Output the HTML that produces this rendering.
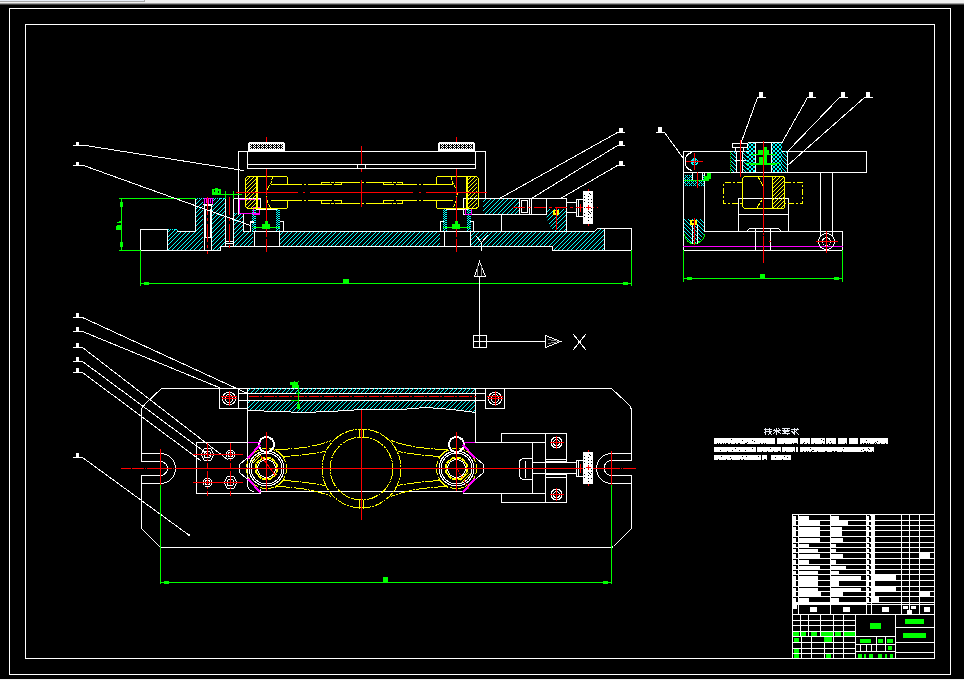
<!DOCTYPE html>
<html><head><meta charset="utf-8"><title>CAD drawing</title>
<style>html,body{margin:0;padding:0;background:#000;width:964px;height:680px;overflow:hidden;font-family:"Liberation Sans",sans-serif}
svg{display:block}</style></head><body>
<svg width="964" height="680" viewBox="0 0 964 680" shape-rendering="crispEdges" stroke-linecap="square"><defs><clipPath id="c1"><polygon points="167,229 176,229 177,231 195,231 195,198 203,198 203,250 167,250"/></clipPath><clipPath id="c2"><polygon points="212,198 225,198 225,246 220,246 220,250 212,250"/></clipPath><clipPath id="c3"><polygon points="233,213 243,213 243,231 253,231 253,246 233,246"/></clipPath><clipPath id="c4"><polygon points="280,231 440,231 440,246 280,246"/></clipPath><clipPath id="c5"><polygon points="470,231 594,231 597,228 604,228 604,250 552,250 552,246 470,246"/></clipPath><clipPath id="c6"><polygon points="483,198 519,198 519,214 483,214"/></clipPath><clipPath id="c7"><polygon points="546,209 566,209 566,231 554,231 550,226 547,219 546,214"/></clipPath><clipPath id="c8"><polygon points="252,209 255,209 255,230 252,230"/></clipPath><clipPath id="c9"><polygon points="276,209 279,209 279,230 276,230"/></clipPath><clipPath id="c10"><polygon points="443,209 446,209 446,230 443,230"/></clipPath><clipPath id="c11"><polygon points="467,209 470,209 470,230 467,230"/></clipPath><clipPath id="c12"><polygon points="246,177 256,177 256,208 246,208"/></clipPath><clipPath id="c13"><polygon points="467,177 477,177 477,208 467,208"/></clipPath><clipPath id="c14"><polygon points="730,151 736,151 736,172 730,172"/></clipPath><clipPath id="c15"><polygon points="742,151 747,151 747,172 742,172"/></clipPath><clipPath id="c16"><polygon points="747,142 755,142 755,172 747,172"/></clipPath><clipPath id="c17"><polygon points="747,142 755,142 755,172 747,172"/></clipPath><clipPath id="c18"><polygon points="771,142 782,142 782,172 771,172"/></clipPath><clipPath id="c19"><polygon points="771,142 782,142 782,172 771,172"/></clipPath><clipPath id="c20"><polygon points="782,151 787,151 787,172 782,172"/></clipPath><clipPath id="c21"><polygon points="684,175 704,175 704,186 684,186"/></clipPath><clipPath id="c22"><polygon points="684,175 704,175 704,186 684,186"/></clipPath><clipPath id="c23"><polygon points="684,219 704,219 704,234 699,243 689,243 684,236"/></clipPath><clipPath id="c24"><polygon points="772,177 784,177 784,208 772,208"/></clipPath><clipPath id="c25"><polygon points="247,388 475,388 475,393 247,393"/></clipPath><clipPath id="c26"><polygon points="247,400 475,400 475,412 460,410 440,408 425,407 400,409 362,409 330,411 301,412 280,411 247,410"/></clipPath><clipPath id="c27"><polygon points="255.19,464.07 256.04,462.25 257.19,460.61 258.61,459.19 260.25,458.04 262.07,457.19 260.53,452.96 258,454.14 255.72,455.74 253.74,457.72 252.14,460 250.96,462.53"/></clipPath><clipPath id="c28"><polygon points="466.81,471.93 465.96,473.75 464.81,475.39 463.39,476.81 461.75,477.96 459.93,478.81 461.47,483.04 464,481.86 466.28,480.26 468.26,478.28 469.86,476 471.04,473.47"/></clipPath></defs><rect x="0" y="0" width="964" height="680" fill="#000000"/>
<rect x="0" y="0" width="964" height="3" fill="#f0f0f0"/>
<rect x="0" y="0" width="145" height="1" fill="#e8eef8"/>
<rect x="0" y="1" width="145" height="1" fill="#a8a8a8"/>
<rect x="144" y="0" width="1" height="2" fill="#a8a8a8"/>
<rect x="0" y="3" width="964" height="1" fill="#a0a0a0"/>
<rect x="0" y="4" width="964" height="1" fill="#404040"/>
<rect x="0" y="679" width="964" height="1" fill="#f0f0f0"/>
<polygon points="9.5,8.5 950.5,8.5 950.5,674.5 9.5,674.5" fill="none" stroke="#ffffff" stroke-width="1"/>
<polygon points="25.5,24.5 934.5,24.5 934.5,658.5 25.5,658.5" fill="none" stroke="#ffffff" stroke-width="1"/>
<path clip-path="url(#c1)" d="M114 251L168 197M118 251L172 197M123 251L177 197M127 251L181 197M132 251L186 197M136 251L190 197M140 251L194 197M145 251L199 197M149 251L203 197M154 251L208 197M158 251L212 197M162 251L216 197M167 251L221 197M171 251L225 197M176 251L230 197M180 251L234 197M184 251L238 197M189 251L243 197M193 251L247 197M198 251L252 197M202 251L256 197" stroke="#00ffff" stroke-width="1" fill="none"/>
<path clip-path="url(#c2)" d="M159 251L213 197M163 251L217 197M168 251L222 197M172 251L226 197M177 251L231 197M181 251L235 197M185 251L239 197M190 251L244 197M194 251L248 197M199 251L253 197M203 251L257 197M207 251L261 197M212 251L266 197M216 251L270 197M221 251L275 197" stroke="#00ffff" stroke-width="1" fill="none"/>
<path clip-path="url(#c3)" d="M199 247L234 212M203 247L238 212M208 247L243 212M212 247L247 212M217 247L252 212M221 247L256 212M225 247L260 212M230 247L265 212M234 247L269 212M239 247L274 212M243 247L278 212M247 247L282 212M252 247L287 212" stroke="#00ffff" stroke-width="1" fill="none"/>
<path clip-path="url(#c4)" d="M264 247L281 230M268 247L285 230M273 247L290 230M277 247L294 230M282 247L299 230M286 247L303 230M290 247L307 230M295 247L312 230M299 247L316 230M304 247L321 230M308 247L325 230M312 247L329 230M317 247L334 230M321 247L338 230M326 247L343 230M330 247L347 230M334 247L351 230M339 247L356 230M343 247L360 230M348 247L365 230M352 247L369 230M356 247L373 230M361 247L378 230M365 247L382 230M370 247L387 230M374 247L391 230M378 247L395 230M383 247L400 230M387 247L404 230M392 247L409 230M396 247L413 230M400 247L417 230M405 247L422 230M409 247L426 230M414 247L431 230M418 247L435 230M422 247L439 230M427 247L444 230M431 247L448 230M436 247L453 230" stroke="#00ffff" stroke-width="1" fill="none"/>
<path clip-path="url(#c5)" d="M447 251L471 227M451 251L475 227M456 251L480 227M460 251L484 227M465 251L489 227M469 251L493 227M473 251L497 227M478 251L502 227M482 251L506 227M487 251L511 227M491 251L515 227M495 251L519 227M500 251L524 227M504 251L528 227M509 251L533 227M513 251L537 227M517 251L541 227M522 251L546 227M526 251L550 227M531 251L555 227M535 251L559 227M539 251L563 227M544 251L568 227M548 251L572 227M553 251L577 227M557 251L581 227M561 251L585 227M566 251L590 227M570 251L594 227M575 251L599 227M579 251L603 227M583 251L607 227M588 251L612 227M592 251L616 227M597 251L621 227M601 251L625 227" stroke="#00ffff" stroke-width="1" fill="none"/>
<path clip-path="url(#c6)" d="M466 215L484 197M470 215L488 197M475 215L493 197M479 215L497 197M484 215L502 197M488 215L506 197M492 215L510 197M497 215L515 197M501 215L519 197M506 215L524 197M510 215L528 197M514 215L532 197" stroke="#00ffff" stroke-width="1" fill="none"/>
<path clip-path="url(#c7)" d="M523 232L547 208M527 232L551 208M532 232L556 208M536 232L560 208M541 232L565 208M545 232L569 208M549 232L573 208M554 232L578 208M558 232L582 208M563 232L587 208" stroke="#00ffff" stroke-width="1" fill="none"/>
<polyline points="167.5,229.5 176.5,229.5 177.5,231.5 195.5,231.5 195.5,198.5 203.5,198.5" fill="none" stroke="#00ffff" stroke-width="1" stroke-dasharray="1 1" stroke-linecap="butt"/>
<polyline points="212.5,198.5 225.5,198.5" fill="none" stroke="#00ffff" stroke-width="1" stroke-dasharray="1 1" stroke-linecap="butt"/>
<polyline points="233.5,213.5 243.5,213.5 243.5,231.5 253.5,231.5" fill="none" stroke="#00ffff" stroke-width="1" stroke-dasharray="1 1" stroke-linecap="butt"/>
<path clip-path="url(#c8)" d="M230 231L253 208M232 231L255 208M234 231L257 208M236 231L259 208M238 231L261 208M240 231L263 208M242 231L265 208M244 231L267 208M246 231L269 208M248 231L271 208M250 231L273 208M252 231L275 208M254 231L277 208" stroke="#00ffff" stroke-width="1" fill="none"/>
<line x1="252.5" y1="209.5" x2="252.5" y2="230.5" stroke="#00ffff" stroke-width="1" stroke-dasharray="1 1" stroke-linecap="butt"/>
<line x1="255.5" y1="209.5" x2="255.5" y2="230.5" stroke="#00ffff" stroke-width="1" stroke-dasharray="1 1" stroke-linecap="butt"/>
<path clip-path="url(#c9)" d="M254 231L277 208M256 231L279 208M258 231L281 208M260 231L283 208M262 231L285 208M264 231L287 208M266 231L289 208M268 231L291 208M270 231L293 208M272 231L295 208M274 231L297 208M276 231L299 208M278 231L301 208" stroke="#00ffff" stroke-width="1" fill="none"/>
<line x1="276.5" y1="209.5" x2="276.5" y2="230.5" stroke="#00ffff" stroke-width="1" stroke-dasharray="1 1" stroke-linecap="butt"/>
<line x1="279.5" y1="209.5" x2="279.5" y2="230.5" stroke="#00ffff" stroke-width="1" stroke-dasharray="1 1" stroke-linecap="butt"/>
<path clip-path="url(#c10)" d="M421 231L444 208M423 231L446 208M425 231L448 208M427 231L450 208M429 231L452 208M431 231L454 208M433 231L456 208M435 231L458 208M437 231L460 208M439 231L462 208M441 231L464 208M443 231L466 208M445 231L468 208" stroke="#00ffff" stroke-width="1" fill="none"/>
<line x1="443.5" y1="209.5" x2="443.5" y2="230.5" stroke="#00ffff" stroke-width="1" stroke-dasharray="1 1" stroke-linecap="butt"/>
<line x1="446.5" y1="209.5" x2="446.5" y2="230.5" stroke="#00ffff" stroke-width="1" stroke-dasharray="1 1" stroke-linecap="butt"/>
<path clip-path="url(#c11)" d="M445 231L468 208M447 231L470 208M449 231L472 208M451 231L474 208M453 231L476 208M455 231L478 208M457 231L480 208M459 231L482 208M461 231L484 208M463 231L486 208M465 231L488 208M467 231L490 208M469 231L492 208" stroke="#00ffff" stroke-width="1" fill="none"/>
<line x1="467.5" y1="209.5" x2="467.5" y2="230.5" stroke="#00ffff" stroke-width="1" stroke-dasharray="1 1" stroke-linecap="butt"/>
<line x1="470.5" y1="209.5" x2="470.5" y2="230.5" stroke="#00ffff" stroke-width="1" stroke-dasharray="1 1" stroke-linecap="butt"/>
<polygon points="140.5,229.5 167.5,229.5 167.5,250.5 140.5,250.5" fill="none" stroke="#ffffff" stroke-width="1"/>
<line x1="167.5" y1="250.5" x2="220.5" y2="250.5" stroke="#ffffff" stroke-width="1"/>
<line x1="220.5" y1="246.5" x2="220.5" y2="250.5" stroke="#ffffff" stroke-width="1"/>
<line x1="220.5" y1="246.5" x2="552.5" y2="246.5" stroke="#ffffff" stroke-width="1"/>
<line x1="552.5" y1="246.5" x2="552.5" y2="250.5" stroke="#ffffff" stroke-width="1"/>
<line x1="552.5" y1="250.5" x2="631.5" y2="250.5" stroke="#ffffff" stroke-width="1"/>
<polygon points="604.5,228.5 631.5,228.5 631.5,250.5 604.5,250.5" fill="none" stroke="#ffffff" stroke-width="1"/>
<line x1="177.5" y1="231.5" x2="195.5" y2="231.5" stroke="#ffffff" stroke-width="1"/>
<line x1="253.5" y1="231.5" x2="594.5" y2="231.5" stroke="#ffffff" stroke-width="1"/>
<line x1="594.5" y1="231.5" x2="597.5" y2="228.5" stroke="#ffffff" stroke-width="1"/>
<line x1="597.5" y1="228.5" x2="604.5" y2="228.5" stroke="#ffffff" stroke-width="1"/>
<line x1="195.5" y1="198.5" x2="195.5" y2="231.5" stroke="#ffffff" stroke-width="1"/>
<polygon points="204.5,205.5 211.5,205.5 211.5,250.5 204.5,250.5" fill="none" stroke="#ffffff" stroke-width="1"/>
<line x1="205.5" y1="209.5" x2="205.5" y2="236.5" stroke="#ffffff" stroke-width="1"/>
<line x1="210.5" y1="209.5" x2="210.5" y2="236.5" stroke="#ffffff" stroke-width="1"/>
<line x1="204.5" y1="237.5" x2="211.5" y2="237.5" stroke="#ffffff" stroke-width="1"/>
<polygon points="204.5,198.5 212.5,198.5 212.5,204.5 204.5,204.5" fill="none" stroke="#ff00ff" stroke-width="1"/>
<line x1="208.5" y1="199.5" x2="208.5" y2="203.5" stroke="#ff00ff" stroke-width="1"/>
<line x1="206.5" y1="199.5" x2="206.5" y2="202.5" stroke="#ff00ff" stroke-width="1"/>
<line x1="210.5" y1="199.5" x2="210.5" y2="202.5" stroke="#ff00ff" stroke-width="1"/>
<line x1="203.5" y1="204.5" x2="212.5" y2="204.5" stroke="#ffffff" stroke-width="1"/>
<line x1="225.5" y1="198.5" x2="225.5" y2="246.5" stroke="#ffffff" stroke-width="1"/>
<line x1="233.5" y1="198.5" x2="233.5" y2="246.5" stroke="#ffffff" stroke-width="1"/>
<line x1="226.5" y1="241.5" x2="232.5" y2="241.5" stroke="#ffffff" stroke-width="1"/>
<line x1="226.5" y1="243.5" x2="232.5" y2="243.5" stroke="#ffffff" stroke-width="1"/>
<line x1="233.5" y1="198.5" x2="260.5" y2="198.5" stroke="#ffffff" stroke-width="1"/>
<line x1="260.5" y1="198.5" x2="260.5" y2="208.5" stroke="#ffffff" stroke-width="1"/>
<polyline points="239.5,199.5 239.5,213.5 259.5,213.5" fill="none" stroke="#ff00ff" stroke-width="1"/>
<line x1="239.5" y1="199.5" x2="259.5" y2="199.5" stroke="#ff00ff" stroke-width="1"/>
<polygon points="253.5,207.5 259.5,207.5 259.5,214.5 253.5,214.5" fill="none" stroke="#ff00ff" stroke-width="1"/>
<polyline points="243.5,214.5 243.5,231.5 250.5,231.5 250.5,222.5 253.5,222.5" fill="none" stroke="#ffffff" stroke-width="1"/>
<polyline points="250.5,231.5 250.5,221.5 253.5,221.5" fill="none" stroke="#ffffff" stroke-width="1"/>
<polyline points="280.5,221.5 283.5,221.5 283.5,231.5" fill="none" stroke="#ffffff" stroke-width="1"/>
<line x1="254.5" y1="231.5" x2="254.5" y2="246.5" stroke="#ffffff" stroke-width="1"/>
<line x1="279.5" y1="231.5" x2="279.5" y2="246.5" stroke="#ffffff" stroke-width="1"/>
<line x1="256.5" y1="209.5" x2="276.5" y2="209.5" stroke="#ffffff" stroke-width="1"/>
<polyline points="440.5,231.5 440.5,221.5 443.5,221.5" fill="none" stroke="#ffffff" stroke-width="1"/>
<polyline points="470.5,221.5 473.5,221.5 473.5,231.5" fill="none" stroke="#ffffff" stroke-width="1"/>
<line x1="444.5" y1="231.5" x2="444.5" y2="246.5" stroke="#ffffff" stroke-width="1"/>
<line x1="470.5" y1="231.5" x2="470.5" y2="246.5" stroke="#ffffff" stroke-width="1"/>
<line x1="446.5" y1="209.5" x2="467.5" y2="209.5" stroke="#ffffff" stroke-width="1"/>
<polygon points="463.5,198.5 519.5,198.5 519.5,214.5 463.5,214.5" fill="none" stroke="#ffffff" stroke-width="1"/>
<polygon points="465.5,208.5 471.5,208.5 471.5,214.5 465.5,214.5" fill="none" stroke="#ff00ff" stroke-width="1"/>
<line x1="501.5" y1="214.5" x2="501.5" y2="231.5" stroke="#ffffff" stroke-width="1"/>
<line x1="476.5" y1="236.5" x2="481.5" y2="242.5" stroke="#ffffff" stroke-width="1"/>
<line x1="487.5" y1="235.5" x2="481.5" y2="242.5" stroke="#ffffff" stroke-width="1"/>
<line x1="481.5" y1="242.5" x2="481.5" y2="250.5" stroke="#ffffff" stroke-width="1"/>
<line x1="238.5" y1="151.5" x2="485.5" y2="151.5" stroke="#ffffff" stroke-width="1"/>
<line x1="238.5" y1="151.5" x2="238.5" y2="214.5" stroke="#ffffff" stroke-width="1"/>
<line x1="485.5" y1="151.5" x2="485.5" y2="198.5" stroke="#ffffff" stroke-width="1"/>
<line x1="247.5" y1="151.5" x2="247.5" y2="168.5" stroke="#ffffff" stroke-width="1"/>
<line x1="475.5" y1="151.5" x2="475.5" y2="168.5" stroke="#ffffff" stroke-width="1"/>
<line x1="247.5" y1="164.5" x2="475.5" y2="164.5" stroke="#ffffff" stroke-width="1"/>
<line x1="247.5" y1="168.5" x2="475.5" y2="168.5" stroke="#ffffff" stroke-width="1"/>
<line x1="357.5" y1="164.5" x2="357.5" y2="168.5" stroke="#ffffff" stroke-width="1"/>
<line x1="365.5" y1="164.5" x2="365.5" y2="168.5" stroke="#ffffff" stroke-width="1"/>
<path clip-path="url(#c12)" d="M214 209L247 176M218 209L251 176M222 209L255 176M226 209L259 176M230 209L263 176M234 209L267 176M238 209L271 176M242 209L275 176M246 209L279 176M250 209L283 176M254 209L287 176" stroke="#ffff00" stroke-width="1" fill="none"/>
<line x1="256.5" y1="177.5" x2="256.5" y2="208.5" stroke="#ffff00" stroke-width="1"/>
<line x1="257.5" y1="177.5" x2="257.5" y2="208.5" stroke="#ffff00" stroke-width="1"/>
<polyline points="247.5,176.5 286.5,176.5 287.5,177.5 287.5,184.5" fill="none" stroke="#ffff00" stroke-width="1"/>
<polyline points="287.5,200.5 287.5,207.5 286.5,208.5 247.5,208.5 245.5,206.5 245.5,178.5 247.5,176.5" fill="none" stroke="#ffff00" stroke-width="1"/>
<line x1="271.5" y1="184.5" x2="287.5" y2="184.5" stroke="#ffff00" stroke-width="1"/>
<line x1="271.5" y1="200.5" x2="287.5" y2="200.5" stroke="#ffff00" stroke-width="1"/>
<path d="M 272.5 177.5 L 271 183 Q 265.5 190 266.5 196 Q 267 202 270.5 208" fill="none" stroke="#ffff00" stroke-width="1" stroke-dasharray="3 1" stroke-linecap="butt"/>
<path clip-path="url(#c13)" d="M435 209L468 176M439 209L472 176M443 209L476 176M447 209L480 176M451 209L484 176M455 209L488 176M459 209L492 176M463 209L496 176M467 209L500 176M471 209L504 176M475 209L508 176" stroke="#ffff00" stroke-width="1" fill="none"/>
<line x1="466.5" y1="177.5" x2="466.5" y2="208.5" stroke="#ffff00" stroke-width="1"/>
<line x1="467.5" y1="177.5" x2="467.5" y2="208.5" stroke="#ffff00" stroke-width="1"/>
<polyline points="476.5,176.5 437.5,176.5 436.5,177.5 436.5,184.5" fill="none" stroke="#ffff00" stroke-width="1"/>
<polyline points="436.5,200.5 436.5,207.5 437.5,208.5 476.5,208.5 478.5,206.5 478.5,178.5 476.5,176.5" fill="none" stroke="#ffff00" stroke-width="1"/>
<line x1="436.5" y1="184.5" x2="452.5" y2="184.5" stroke="#ffff00" stroke-width="1"/>
<line x1="436.5" y1="200.5" x2="452.5" y2="200.5" stroke="#ffff00" stroke-width="1"/>
<path d="M 451 177.5 L 452.5 183 Q 458 190 457 196 Q 456.5 202 453 208" fill="none" stroke="#ffff00" stroke-width="1" stroke-dasharray="3 1" stroke-linecap="butt"/>
<line x1="287.5" y1="184.5" x2="321.5" y2="184.5" stroke="#ffff00" stroke-width="1" stroke-dasharray="14 2 2 2" stroke-linecap="butt"/>
<line x1="402.5" y1="184.5" x2="436.5" y2="184.5" stroke="#ffff00" stroke-width="1" stroke-dasharray="14 2 2 2" stroke-linecap="butt"/>
<line x1="287.5" y1="200.5" x2="321.5" y2="200.5" stroke="#ffff00" stroke-width="1" stroke-dasharray="14 2 2 2" stroke-linecap="butt"/>
<line x1="402.5" y1="200.5" x2="436.5" y2="200.5" stroke="#ffff00" stroke-width="1" stroke-dasharray="14 2 2 2" stroke-linecap="butt"/>
<line x1="341.5" y1="182.5" x2="383.5" y2="182.5" stroke="#ffff00" stroke-width="1" stroke-dasharray="18 2 2 2" stroke-linecap="butt"/>
<line x1="341.5" y1="203.5" x2="383.5" y2="203.5" stroke="#ffff00" stroke-width="1" stroke-dasharray="18 2 2 2" stroke-linecap="butt"/>
<line x1="321.5" y1="182.5" x2="341.5" y2="182.5" stroke="#ffff00" stroke-width="1" stroke-dasharray="8 1 3 1" stroke-linecap="butt"/>
<line x1="321.5" y1="184.5" x2="341.5" y2="184.5" stroke="#ffff00" stroke-width="1" stroke-dasharray="10 2" stroke-linecap="butt"/>
<line x1="321.5" y1="200.5" x2="341.5" y2="200.5" stroke="#ffff00" stroke-width="1" stroke-dasharray="10 2" stroke-linecap="butt"/>
<line x1="321.5" y1="203.5" x2="341.5" y2="203.5" stroke="#ffff00" stroke-width="1" stroke-dasharray="8 1 3 1" stroke-linecap="butt"/>
<line x1="321.5" y1="182.5" x2="321.5" y2="184.5" stroke="#ffff00" stroke-width="1"/>
<line x1="341.5" y1="182.5" x2="341.5" y2="184.5" stroke="#ffff00" stroke-width="1"/>
<line x1="321.5" y1="200.5" x2="321.5" y2="203.5" stroke="#ffff00" stroke-width="1"/>
<line x1="341.5" y1="200.5" x2="341.5" y2="203.5" stroke="#ffff00" stroke-width="1"/>
<line x1="383.5" y1="182.5" x2="402.5" y2="182.5" stroke="#ffff00" stroke-width="1" stroke-dasharray="8 1 3 1" stroke-linecap="butt"/>
<line x1="383.5" y1="184.5" x2="402.5" y2="184.5" stroke="#ffff00" stroke-width="1" stroke-dasharray="10 2" stroke-linecap="butt"/>
<line x1="383.5" y1="200.5" x2="402.5" y2="200.5" stroke="#ffff00" stroke-width="1" stroke-dasharray="10 2" stroke-linecap="butt"/>
<line x1="383.5" y1="203.5" x2="402.5" y2="203.5" stroke="#ffff00" stroke-width="1" stroke-dasharray="8 1 3 1" stroke-linecap="butt"/>
<line x1="383.5" y1="182.5" x2="383.5" y2="184.5" stroke="#ffff00" stroke-width="1"/>
<line x1="402.5" y1="182.5" x2="402.5" y2="184.5" stroke="#ffff00" stroke-width="1"/>
<line x1="383.5" y1="200.5" x2="383.5" y2="203.5" stroke="#ffff00" stroke-width="1"/>
<line x1="402.5" y1="200.5" x2="402.5" y2="203.5" stroke="#ffff00" stroke-width="1"/>
<polyline points="546.5,214.5 519.5,214.5 519.5,198.5 566.5,198.5 566.5,231.5" fill="none" stroke="#ffffff" stroke-width="1"/>
<polygon points="521.5,200.5 527.5,200.5 527.5,212.5 521.5,212.5" fill="none" stroke="#ffffff" stroke-width="1"/>
<line x1="529.5" y1="199.5" x2="529.5" y2="213.5" stroke="#ffffff" stroke-width="1"/>
<line x1="531.5" y1="199.5" x2="531.5" y2="213.5" stroke="#ffffff" stroke-width="1"/>
<line x1="546.5" y1="198.5" x2="546.5" y2="214.5" stroke="#ffffff" stroke-width="1"/>
<line x1="566.5" y1="202.5" x2="576.5" y2="202.5" stroke="#ffffff" stroke-width="1"/>
<line x1="566.5" y1="212.5" x2="576.5" y2="212.5" stroke="#ffffff" stroke-width="1"/>
<polygon points="576.5,199.5 583.5,199.5 583.5,216.5 576.5,216.5" fill="none" stroke="#ffffff" stroke-width="1"/>
<line x1="578.5" y1="200.5" x2="578.5" y2="215.5" stroke="#ffffff" stroke-width="1"/>
<rect x="553" y="210" width="6" height="5" fill="#ffff00"/>
<rect x="555" y="211" width="2" height="2" fill="#000"/>
<line x1="236.5" y1="192.5" x2="297.5" y2="192.5" stroke="#ff0000" stroke-width="1"/>
<line x1="303.5" y1="192.5" x2="304.5" y2="192.5" stroke="#ff0000" stroke-width="1"/>
<line x1="310.5" y1="192.5" x2="412.5" y2="192.5" stroke="#ff0000" stroke-width="1"/>
<line x1="419.5" y1="192.5" x2="420.5" y2="192.5" stroke="#ff0000" stroke-width="1"/>
<line x1="426.5" y1="192.5" x2="486.5" y2="192.5" stroke="#ff0000" stroke-width="1"/>
<line x1="266.5" y1="137.5" x2="266.5" y2="142.5" stroke="#ff0000" stroke-width="1"/>
<line x1="266.5" y1="169.5" x2="266.5" y2="194.5" stroke="#ff0000" stroke-width="1"/>
<line x1="266.5" y1="197.5" x2="266.5" y2="236.5" stroke="#ff0000" stroke-width="1"/>
<line x1="266.5" y1="239.5" x2="266.5" y2="251.5" stroke="#ff0000" stroke-width="1"/>
<line x1="361.5" y1="146.5" x2="361.5" y2="163.5" stroke="#ff0000" stroke-width="1"/>
<line x1="361.5" y1="169.5" x2="361.5" y2="171.5" stroke="#ff0000" stroke-width="1"/>
<line x1="361.5" y1="180.5" x2="361.5" y2="206.5" stroke="#ff0000" stroke-width="1"/>
<line x1="456.5" y1="137.5" x2="456.5" y2="142.5" stroke="#ff0000" stroke-width="1"/>
<line x1="456.5" y1="169.5" x2="456.5" y2="194.5" stroke="#ff0000" stroke-width="1"/>
<line x1="456.5" y1="197.5" x2="456.5" y2="236.5" stroke="#ff0000" stroke-width="1"/>
<line x1="456.5" y1="239.5" x2="456.5" y2="251.5" stroke="#ff0000" stroke-width="1"/>
<line x1="207.5" y1="196.5" x2="207.5" y2="253.5" stroke="#ff0000" stroke-width="1" stroke-dasharray="18 3 3 3" stroke-linecap="butt"/>
<line x1="229.5" y1="196.5" x2="229.5" y2="249.5" stroke="#ff0000" stroke-width="1" stroke-dasharray="18 3 3 3" stroke-linecap="butt"/>
<line x1="512.5" y1="207.5" x2="597.5" y2="207.5" stroke="#ff0000" stroke-width="1" stroke-dasharray="12 3 3 3" stroke-linecap="butt"/>
<line x1="580.5" y1="204.5" x2="580.5" y2="211.5" stroke="#ff0000" stroke-width="1"/>
<line x1="556.5" y1="208.5" x2="556.5" y2="229.5" stroke="#ff0000" stroke-width="1"/>
<line x1="119.5" y1="198.5" x2="195.5" y2="198.5" stroke="#00ff00" stroke-width="1"/>
<line x1="119.5" y1="250.5" x2="140.5" y2="250.5" stroke="#00ff00" stroke-width="1"/>
<line x1="121.5" y1="198.5" x2="121.5" y2="250.5" stroke="#00ff00" stroke-width="1"/>
<rect x="120" y="202" width="3" height="5" fill="#00ff00"/>
<rect x="120" y="242" width="3" height="5" fill="#00ff00"/>
<rect x="116" y="225" width="5" height="5" fill="#00ff00"/>
<rect x="116" y="225" width="1" height="1" fill="#000"/>
<rect x="117" y="222" width="4" height="1" fill="#00ff00"/>
<rect x="119" y="221" width="2" height="2" fill="#00ff00"/>
<line x1="140.5" y1="250.5" x2="140.5" y2="285.5" stroke="#00ff00" stroke-width="1"/>
<line x1="631.5" y1="250.5" x2="631.5" y2="285.5" stroke="#00ff00" stroke-width="1"/>
<line x1="140.5" y1="283.5" x2="631.5" y2="283.5" stroke="#00ff00" stroke-width="1"/>
<rect x="144" y="282" width="5" height="3" fill="#00ff00"/>
<rect x="623" y="282" width="5" height="3" fill="#00ff00"/>
<rect x="343" y="279" width="6" height="4" fill="#00ff00"/>
<rect x="212" y="189" width="9" height="6" fill="#00ff00"/>
<rect x="214" y="190" width="1" height="2" fill="#000"/>
<rect x="218" y="191" width="1" height="2" fill="#000"/>
<rect x="215" y="188" width="3" height="1" fill="#00ff00"/>
<line x1="212.5" y1="194.5" x2="241.5" y2="194.5" stroke="#00ff00" stroke-width="1"/>
<line x1="225.5" y1="191.5" x2="225.5" y2="198.5" stroke="#00ff00" stroke-width="1"/>
<line x1="233.5" y1="191.5" x2="233.5" y2="198.5" stroke="#00ff00" stroke-width="1"/>
<line x1="253.5" y1="227.5" x2="279.5" y2="227.5" stroke="#00ff00" stroke-width="1"/>
<rect x="262" y="224" width="8" height="5" fill="#00ff00"/>
<rect x="265" y="221" width="3" height="4" fill="#00ff00"/>
<line x1="443.5" y1="227.5" x2="469.5" y2="227.5" stroke="#00ff00" stroke-width="1"/>
<rect x="452" y="224" width="8" height="5" fill="#00ff00"/>
<rect x="455" y="221" width="3" height="4" fill="#00ff00"/>
<line x1="73.5" y1="145.5" x2="85.5" y2="145.5" stroke="#ffffff" stroke-width="1"/>
<line x1="85.5" y1="145.5" x2="243.5" y2="170.5" stroke="#ffffff" stroke-width="1"/>
<line x1="73.5" y1="165.5" x2="83.5" y2="165.5" stroke="#ffffff" stroke-width="1"/>
<line x1="83.5" y1="165.5" x2="250.5" y2="225.5" stroke="#ffffff" stroke-width="1"/>
<rect x="76" y="142" width="3" height="3" fill="#ffffff"/>
<rect x="76" y="162" width="3" height="3" fill="#ffffff"/>
<line x1="617.5" y1="132.5" x2="624.5" y2="132.5" stroke="#ffffff" stroke-width="1"/>
<line x1="617.5" y1="132.5" x2="499.5" y2="198.5" stroke="#ffffff" stroke-width="1"/>
<rect x="619" y="128" width="4" height="4" fill="#ffffff"/>
<line x1="617.5" y1="145.5" x2="624.5" y2="145.5" stroke="#ffffff" stroke-width="1"/>
<line x1="617.5" y1="145.5" x2="531.5" y2="198.5" stroke="#ffffff" stroke-width="1"/>
<rect x="619" y="141" width="4" height="4" fill="#ffffff"/>
<line x1="617.5" y1="165.5" x2="624.5" y2="165.5" stroke="#ffffff" stroke-width="1"/>
<line x1="617.5" y1="165.5" x2="560.5" y2="198.5" stroke="#ffffff" stroke-width="1"/>
<rect x="619" y="161" width="4" height="4" fill="#ffffff"/>
<line x1="479.5" y1="276.5" x2="479.5" y2="336.5" stroke="#ffffff" stroke-width="1"/>
<polygon points="479.5,261.5 474.5,276.5 485.5,276.5" fill="none" stroke="#ffffff" stroke-width="1"/>
<line x1="477.5" y1="266.5" x2="477.5" y2="275.5" stroke="#888" stroke-width="1"/>
<line x1="481.5" y1="266.5" x2="481.5" y2="275.5" stroke="#888" stroke-width="1"/>
<polygon points="473.5,335.5 486.5,335.5 486.5,347.5 473.5,347.5" fill="none" stroke="#ffffff" stroke-width="1"/>
<line x1="479.5" y1="335.5" x2="479.5" y2="347.5" stroke="#ffffff" stroke-width="1"/>
<line x1="473.5" y1="341.5" x2="486.5" y2="341.5" stroke="#ffffff" stroke-width="1"/>
<line x1="486.5" y1="341.5" x2="545.5" y2="341.5" stroke="#ffffff" stroke-width="1"/>
<polygon points="545.5,335.5 560.5,341.5 545.5,347.5" fill="none" stroke="#ffffff" stroke-width="1"/>
<line x1="548.5" y1="339.5" x2="558.5" y2="341.5" stroke="#888" stroke-width="1"/>
<line x1="548.5" y1="343.5" x2="558.5" y2="341.5" stroke="#888" stroke-width="1"/>
<line x1="573.5" y1="334.5" x2="585.5" y2="349.5" stroke="#ffffff" stroke-width="1"/>
<line x1="585.5" y1="334.5" x2="573.5" y2="349.5" stroke="#ffffff" stroke-width="1"/>
<rect x="248" y="142" width="37" height="9" fill="#ffffff"/>
<rect x="248" y="142" width="1" height="1" fill="#000"/>
<rect x="284" y="142" width="1" height="1" fill="#000"/>
<rect x="250" y="144" width="1" height="1" fill="#000"/>
<rect x="252" y="144" width="1" height="1" fill="#000"/>
<rect x="254" y="144" width="1" height="1" fill="#000"/>
<rect x="256" y="144" width="1" height="1" fill="#000"/>
<rect x="258" y="144" width="1" height="1" fill="#000"/>
<rect x="260" y="144" width="1" height="1" fill="#000"/>
<rect x="262" y="144" width="1" height="1" fill="#000"/>
<rect x="264" y="144" width="1" height="1" fill="#000"/>
<rect x="266" y="144" width="1" height="1" fill="#000"/>
<rect x="268" y="144" width="1" height="1" fill="#000"/>
<rect x="270" y="144" width="1" height="1" fill="#000"/>
<rect x="272" y="144" width="1" height="1" fill="#000"/>
<rect x="274" y="144" width="1" height="1" fill="#000"/>
<rect x="276" y="144" width="1" height="1" fill="#000"/>
<rect x="278" y="144" width="1" height="1" fill="#000"/>
<rect x="280" y="144" width="1" height="1" fill="#000"/>
<rect x="282" y="144" width="1" height="1" fill="#000"/>
<rect x="251" y="145" width="1" height="1" fill="#000"/>
<rect x="252" y="145" width="1" height="1" fill="#000"/>
<rect x="253" y="145" width="1" height="1" fill="#000"/>
<rect x="255" y="145" width="1" height="1" fill="#000"/>
<rect x="256" y="145" width="1" height="1" fill="#000"/>
<rect x="257" y="145" width="1" height="1" fill="#000"/>
<rect x="259" y="145" width="1" height="1" fill="#000"/>
<rect x="260" y="145" width="1" height="1" fill="#000"/>
<rect x="261" y="145" width="1" height="1" fill="#000"/>
<rect x="263" y="145" width="1" height="1" fill="#000"/>
<rect x="264" y="145" width="1" height="1" fill="#000"/>
<rect x="265" y="145" width="1" height="1" fill="#000"/>
<rect x="267" y="145" width="1" height="1" fill="#000"/>
<rect x="268" y="145" width="1" height="1" fill="#000"/>
<rect x="269" y="145" width="1" height="1" fill="#000"/>
<rect x="271" y="145" width="1" height="1" fill="#000"/>
<rect x="272" y="145" width="1" height="1" fill="#000"/>
<rect x="273" y="145" width="1" height="1" fill="#000"/>
<rect x="275" y="145" width="1" height="1" fill="#000"/>
<rect x="276" y="145" width="1" height="1" fill="#000"/>
<rect x="277" y="145" width="1" height="1" fill="#000"/>
<rect x="279" y="145" width="1" height="1" fill="#000"/>
<rect x="280" y="145" width="1" height="1" fill="#000"/>
<rect x="281" y="145" width="1" height="1" fill="#000"/>
<rect x="250" y="146" width="1" height="1" fill="#000"/>
<rect x="252" y="146" width="1" height="1" fill="#000"/>
<rect x="254" y="146" width="1" height="1" fill="#000"/>
<rect x="256" y="146" width="1" height="1" fill="#000"/>
<rect x="258" y="146" width="1" height="1" fill="#000"/>
<rect x="260" y="146" width="1" height="1" fill="#000"/>
<rect x="262" y="146" width="1" height="1" fill="#000"/>
<rect x="264" y="146" width="1" height="1" fill="#000"/>
<rect x="266" y="146" width="1" height="1" fill="#000"/>
<rect x="268" y="146" width="1" height="1" fill="#000"/>
<rect x="270" y="146" width="1" height="1" fill="#000"/>
<rect x="272" y="146" width="1" height="1" fill="#000"/>
<rect x="274" y="146" width="1" height="1" fill="#000"/>
<rect x="276" y="146" width="1" height="1" fill="#000"/>
<rect x="278" y="146" width="1" height="1" fill="#000"/>
<rect x="280" y="146" width="1" height="1" fill="#000"/>
<rect x="282" y="146" width="1" height="1" fill="#000"/>
<rect x="251" y="147" width="1" height="1" fill="#000"/>
<rect x="252" y="147" width="1" height="1" fill="#000"/>
<rect x="253" y="147" width="1" height="1" fill="#000"/>
<rect x="255" y="147" width="1" height="1" fill="#000"/>
<rect x="256" y="147" width="1" height="1" fill="#000"/>
<rect x="257" y="147" width="1" height="1" fill="#000"/>
<rect x="259" y="147" width="1" height="1" fill="#000"/>
<rect x="260" y="147" width="1" height="1" fill="#000"/>
<rect x="261" y="147" width="1" height="1" fill="#000"/>
<rect x="263" y="147" width="1" height="1" fill="#000"/>
<rect x="264" y="147" width="1" height="1" fill="#000"/>
<rect x="265" y="147" width="1" height="1" fill="#000"/>
<rect x="267" y="147" width="1" height="1" fill="#000"/>
<rect x="268" y="147" width="1" height="1" fill="#000"/>
<rect x="269" y="147" width="1" height="1" fill="#000"/>
<rect x="271" y="147" width="1" height="1" fill="#000"/>
<rect x="272" y="147" width="1" height="1" fill="#000"/>
<rect x="273" y="147" width="1" height="1" fill="#000"/>
<rect x="275" y="147" width="1" height="1" fill="#000"/>
<rect x="276" y="147" width="1" height="1" fill="#000"/>
<rect x="277" y="147" width="1" height="1" fill="#000"/>
<rect x="279" y="147" width="1" height="1" fill="#000"/>
<rect x="280" y="147" width="1" height="1" fill="#000"/>
<rect x="281" y="147" width="1" height="1" fill="#000"/>
<rect x="250" y="148" width="1" height="1" fill="#000"/>
<rect x="252" y="148" width="1" height="1" fill="#000"/>
<rect x="254" y="148" width="1" height="1" fill="#000"/>
<rect x="256" y="148" width="1" height="1" fill="#000"/>
<rect x="258" y="148" width="1" height="1" fill="#000"/>
<rect x="260" y="148" width="1" height="1" fill="#000"/>
<rect x="262" y="148" width="1" height="1" fill="#000"/>
<rect x="264" y="148" width="1" height="1" fill="#000"/>
<rect x="266" y="148" width="1" height="1" fill="#000"/>
<rect x="268" y="148" width="1" height="1" fill="#000"/>
<rect x="270" y="148" width="1" height="1" fill="#000"/>
<rect x="272" y="148" width="1" height="1" fill="#000"/>
<rect x="274" y="148" width="1" height="1" fill="#000"/>
<rect x="276" y="148" width="1" height="1" fill="#000"/>
<rect x="278" y="148" width="1" height="1" fill="#000"/>
<rect x="280" y="148" width="1" height="1" fill="#000"/>
<rect x="282" y="148" width="1" height="1" fill="#000"/>
<rect x="438" y="142" width="37" height="9" fill="#ffffff"/>
<rect x="438" y="142" width="1" height="1" fill="#000"/>
<rect x="474" y="142" width="1" height="1" fill="#000"/>
<rect x="440" y="144" width="1" height="1" fill="#000"/>
<rect x="442" y="144" width="1" height="1" fill="#000"/>
<rect x="444" y="144" width="1" height="1" fill="#000"/>
<rect x="446" y="144" width="1" height="1" fill="#000"/>
<rect x="448" y="144" width="1" height="1" fill="#000"/>
<rect x="450" y="144" width="1" height="1" fill="#000"/>
<rect x="452" y="144" width="1" height="1" fill="#000"/>
<rect x="454" y="144" width="1" height="1" fill="#000"/>
<rect x="456" y="144" width="1" height="1" fill="#000"/>
<rect x="458" y="144" width="1" height="1" fill="#000"/>
<rect x="460" y="144" width="1" height="1" fill="#000"/>
<rect x="462" y="144" width="1" height="1" fill="#000"/>
<rect x="464" y="144" width="1" height="1" fill="#000"/>
<rect x="466" y="144" width="1" height="1" fill="#000"/>
<rect x="468" y="144" width="1" height="1" fill="#000"/>
<rect x="470" y="144" width="1" height="1" fill="#000"/>
<rect x="472" y="144" width="1" height="1" fill="#000"/>
<rect x="440" y="145" width="1" height="1" fill="#000"/>
<rect x="441" y="145" width="1" height="1" fill="#000"/>
<rect x="443" y="145" width="1" height="1" fill="#000"/>
<rect x="444" y="145" width="1" height="1" fill="#000"/>
<rect x="445" y="145" width="1" height="1" fill="#000"/>
<rect x="447" y="145" width="1" height="1" fill="#000"/>
<rect x="448" y="145" width="1" height="1" fill="#000"/>
<rect x="449" y="145" width="1" height="1" fill="#000"/>
<rect x="451" y="145" width="1" height="1" fill="#000"/>
<rect x="452" y="145" width="1" height="1" fill="#000"/>
<rect x="453" y="145" width="1" height="1" fill="#000"/>
<rect x="455" y="145" width="1" height="1" fill="#000"/>
<rect x="456" y="145" width="1" height="1" fill="#000"/>
<rect x="457" y="145" width="1" height="1" fill="#000"/>
<rect x="459" y="145" width="1" height="1" fill="#000"/>
<rect x="460" y="145" width="1" height="1" fill="#000"/>
<rect x="461" y="145" width="1" height="1" fill="#000"/>
<rect x="463" y="145" width="1" height="1" fill="#000"/>
<rect x="464" y="145" width="1" height="1" fill="#000"/>
<rect x="465" y="145" width="1" height="1" fill="#000"/>
<rect x="467" y="145" width="1" height="1" fill="#000"/>
<rect x="468" y="145" width="1" height="1" fill="#000"/>
<rect x="469" y="145" width="1" height="1" fill="#000"/>
<rect x="471" y="145" width="1" height="1" fill="#000"/>
<rect x="472" y="145" width="1" height="1" fill="#000"/>
<rect x="440" y="146" width="1" height="1" fill="#000"/>
<rect x="442" y="146" width="1" height="1" fill="#000"/>
<rect x="444" y="146" width="1" height="1" fill="#000"/>
<rect x="446" y="146" width="1" height="1" fill="#000"/>
<rect x="448" y="146" width="1" height="1" fill="#000"/>
<rect x="450" y="146" width="1" height="1" fill="#000"/>
<rect x="452" y="146" width="1" height="1" fill="#000"/>
<rect x="454" y="146" width="1" height="1" fill="#000"/>
<rect x="456" y="146" width="1" height="1" fill="#000"/>
<rect x="458" y="146" width="1" height="1" fill="#000"/>
<rect x="460" y="146" width="1" height="1" fill="#000"/>
<rect x="462" y="146" width="1" height="1" fill="#000"/>
<rect x="464" y="146" width="1" height="1" fill="#000"/>
<rect x="466" y="146" width="1" height="1" fill="#000"/>
<rect x="468" y="146" width="1" height="1" fill="#000"/>
<rect x="470" y="146" width="1" height="1" fill="#000"/>
<rect x="472" y="146" width="1" height="1" fill="#000"/>
<rect x="440" y="147" width="1" height="1" fill="#000"/>
<rect x="441" y="147" width="1" height="1" fill="#000"/>
<rect x="443" y="147" width="1" height="1" fill="#000"/>
<rect x="444" y="147" width="1" height="1" fill="#000"/>
<rect x="445" y="147" width="1" height="1" fill="#000"/>
<rect x="447" y="147" width="1" height="1" fill="#000"/>
<rect x="448" y="147" width="1" height="1" fill="#000"/>
<rect x="449" y="147" width="1" height="1" fill="#000"/>
<rect x="451" y="147" width="1" height="1" fill="#000"/>
<rect x="452" y="147" width="1" height="1" fill="#000"/>
<rect x="453" y="147" width="1" height="1" fill="#000"/>
<rect x="455" y="147" width="1" height="1" fill="#000"/>
<rect x="456" y="147" width="1" height="1" fill="#000"/>
<rect x="457" y="147" width="1" height="1" fill="#000"/>
<rect x="459" y="147" width="1" height="1" fill="#000"/>
<rect x="460" y="147" width="1" height="1" fill="#000"/>
<rect x="461" y="147" width="1" height="1" fill="#000"/>
<rect x="463" y="147" width="1" height="1" fill="#000"/>
<rect x="464" y="147" width="1" height="1" fill="#000"/>
<rect x="465" y="147" width="1" height="1" fill="#000"/>
<rect x="467" y="147" width="1" height="1" fill="#000"/>
<rect x="468" y="147" width="1" height="1" fill="#000"/>
<rect x="469" y="147" width="1" height="1" fill="#000"/>
<rect x="471" y="147" width="1" height="1" fill="#000"/>
<rect x="472" y="147" width="1" height="1" fill="#000"/>
<rect x="440" y="148" width="1" height="1" fill="#000"/>
<rect x="442" y="148" width="1" height="1" fill="#000"/>
<rect x="444" y="148" width="1" height="1" fill="#000"/>
<rect x="446" y="148" width="1" height="1" fill="#000"/>
<rect x="448" y="148" width="1" height="1" fill="#000"/>
<rect x="450" y="148" width="1" height="1" fill="#000"/>
<rect x="452" y="148" width="1" height="1" fill="#000"/>
<rect x="454" y="148" width="1" height="1" fill="#000"/>
<rect x="456" y="148" width="1" height="1" fill="#000"/>
<rect x="458" y="148" width="1" height="1" fill="#000"/>
<rect x="460" y="148" width="1" height="1" fill="#000"/>
<rect x="462" y="148" width="1" height="1" fill="#000"/>
<rect x="464" y="148" width="1" height="1" fill="#000"/>
<rect x="466" y="148" width="1" height="1" fill="#000"/>
<rect x="468" y="148" width="1" height="1" fill="#000"/>
<rect x="470" y="148" width="1" height="1" fill="#000"/>
<rect x="472" y="148" width="1" height="1" fill="#000"/>
<rect x="583" y="191" width="10" height="33" fill="#ffffff"/>
<rect x="584" y="195" width="1" height="1" fill="#000"/>
<rect x="584" y="198" width="1" height="1" fill="#000"/>
<rect x="584" y="201" width="1" height="1" fill="#000"/>
<rect x="584" y="207" width="1" height="1" fill="#000"/>
<rect x="584" y="213" width="1" height="1" fill="#000"/>
<rect x="584" y="216" width="1" height="1" fill="#000"/>
<rect x="588" y="196" width="1" height="1" fill="#000"/>
<rect x="588" y="199" width="1" height="1" fill="#000"/>
<rect x="588" y="202" width="1" height="1" fill="#000"/>
<rect x="588" y="205" width="1" height="1" fill="#000"/>
<rect x="588" y="211" width="1" height="1" fill="#000"/>
<rect x="588" y="214" width="1" height="1" fill="#000"/>
<rect x="588" y="217" width="1" height="1" fill="#000"/>
<rect x="588" y="220" width="1" height="1" fill="#000"/>
<rect x="591" y="199" width="1" height="1" fill="#000"/>
<rect x="591" y="202" width="1" height="1" fill="#000"/>
<rect x="591" y="208" width="1" height="1" fill="#000"/>
<rect x="591" y="211" width="1" height="1" fill="#000"/>
<rect x="591" y="217" width="1" height="1" fill="#000"/>
<rect x="589" y="193" width="1" height="1" fill="#000"/>
<rect x="590" y="194" width="1" height="1" fill="#000"/>
<rect x="589" y="212" width="1" height="1" fill="#000"/>
<rect x="590" y="213" width="1" height="1" fill="#000"/>
<rect x="588" y="189" width="1" height="2" fill="#ff0000"/>
<rect x="588" y="224" width="1" height="2" fill="#ff0000"/>
<rect x="586" y="207" width="5" height="1" fill="#ff0000"/>
<rect x="588" y="205" width="1" height="5" fill="#ff0000"/>
<line x1="656.5" y1="132.5" x2="664.5" y2="132.5" stroke="#ffffff" stroke-width="1"/>
<line x1="664.5" y1="132.5" x2="683.5" y2="158.5" stroke="#ffffff" stroke-width="1"/>
<rect x="658" y="127" width="4" height="5" fill="#ffffff"/>
<line x1="757.5" y1="97.5" x2="765.5" y2="97.5" stroke="#ffffff" stroke-width="1"/>
<line x1="757.5" y1="97.5" x2="740.5" y2="144.5" stroke="#ffffff" stroke-width="1"/>
<rect x="759" y="92" width="4" height="5" fill="#ffffff"/>
<line x1="807.5" y1="97.5" x2="815.5" y2="97.5" stroke="#ffffff" stroke-width="1"/>
<line x1="807.5" y1="97.5" x2="781.5" y2="143.5" stroke="#ffffff" stroke-width="1"/>
<rect x="809" y="92" width="4" height="5" fill="#ffffff"/>
<line x1="839.5" y1="97.5" x2="847.5" y2="97.5" stroke="#ffffff" stroke-width="1"/>
<line x1="839.5" y1="97.5" x2="787.5" y2="151.5" stroke="#ffffff" stroke-width="1"/>
<rect x="841" y="92" width="4" height="5" fill="#ffffff"/>
<line x1="864.5" y1="97.5" x2="872.5" y2="97.5" stroke="#ffffff" stroke-width="1"/>
<line x1="864.5" y1="97.5" x2="787.5" y2="165.5" stroke="#ffffff" stroke-width="1"/>
<rect x="866" y="92" width="4" height="5" fill="#ffffff"/>
<line x1="683.5" y1="151.5" x2="748.5" y2="151.5" stroke="#ffffff" stroke-width="1"/>
<line x1="782.5" y1="151.5" x2="866.5" y2="151.5" stroke="#ffffff" stroke-width="1"/>
<line x1="683.5" y1="172.5" x2="866.5" y2="172.5" stroke="#ffffff" stroke-width="1"/>
<line x1="866.5" y1="151.5" x2="866.5" y2="172.5" stroke="#ffffff" stroke-width="1"/>
<line x1="787.5" y1="151.5" x2="787.5" y2="172.5" stroke="#ffffff" stroke-width="1"/>
<line x1="683.5" y1="151.5" x2="683.5" y2="250.5" stroke="#ffffff" stroke-width="1"/>
<path d="M 691.5 152.5 A 9.5 9.5 0 0 0 691.5 170.5" fill="none" stroke="#ffffff" stroke-width="1"/>
<circle cx="694.5" cy="161.5" r="3" fill="none" stroke="#00ffff" stroke-width="1"/>
<rect x="692" y="159" width="4" height="4" fill="#00ffff"/>
<line x1="686.5" y1="161.5" x2="702.5" y2="161.5" stroke="#ff0000" stroke-width="1"/>
<line x1="694.5" y1="153.5" x2="694.5" y2="169.5" stroke="#ff0000" stroke-width="1"/>
<path clip-path="url(#c14)" d="M708 150L731 173M712 150L735 173M716 150L739 173M720 150L743 173M724 150L747 173M728 150L751 173M732 150L755 173" stroke="#00ffff" stroke-width="1" fill="none"/>
<path clip-path="url(#c15)" d="M720 150L743 173M724 150L747 173M728 150L751 173M732 150L755 173M736 150L759 173M740 150L763 173M744 150L767 173" stroke="#00ffff" stroke-width="1" fill="none"/>
<path clip-path="url(#c16)" d="M716 173L748 141M720 173L752 141M724 173L756 141M728 173L760 141M732 173L764 141M736 173L768 141M740 173L772 141M744 173L776 141M748 173L780 141M752 173L784 141" stroke="#00ffff" stroke-width="1" fill="none"/>
<path clip-path="url(#c17)" d="M716 141L748 173M720 141L752 173M724 141L756 173M728 141L760 173M732 141L764 173M736 141L768 173M740 141L772 173M744 141L776 173M748 141L780 173M752 141L784 173" stroke="#00ffff" stroke-width="1" fill="none"/>
<path clip-path="url(#c18)" d="M740 173L772 141M744 173L776 141M748 173L780 141M752 173L784 141M756 173L788 141M760 173L792 141M764 173L796 141M768 173L800 141M772 173L804 141M776 173L808 141M780 173L812 141" stroke="#00ffff" stroke-width="1" fill="none"/>
<path clip-path="url(#c19)" d="M740 141L772 173M744 141L776 173M748 141L780 173M752 141L784 173M756 141L788 173M760 141L792 173M764 141L796 173M768 141L800 173M772 141L804 173M776 141L808 173M780 141L812 173" stroke="#00ffff" stroke-width="1" fill="none"/>
<path clip-path="url(#c20)" d="M760 150L783 173M764 150L787 173M768 150L791 173M772 150L795 173M776 150L799 173M780 150L803 173M784 150L807 173" stroke="#00ffff" stroke-width="1" fill="none"/>
<line x1="748.5" y1="142.5" x2="782.5" y2="142.5" stroke="#ffffff" stroke-width="1"/>
<line x1="755.5" y1="142.5" x2="755.5" y2="172.5" stroke="#ffffff" stroke-width="1"/>
<line x1="771.5" y1="142.5" x2="771.5" y2="172.5" stroke="#ffffff" stroke-width="1"/>
<line x1="730.5" y1="151.5" x2="730.5" y2="172.5" stroke="#00ff00" stroke-width="1" stroke-dasharray="1 1" stroke-linecap="butt"/>
<polygon points="732.5,143.5 747.5,143.5 747.5,147.5 732.5,147.5" fill="none" stroke="#ffffff" stroke-width="1"/>
<polygon points="735.5,147.5 743.5,147.5 743.5,151.5 735.5,151.5" fill="none" stroke="#ffffff" stroke-width="1"/>
<line x1="736.5" y1="151.5" x2="736.5" y2="172.5" stroke="#ffffff" stroke-width="1"/>
<line x1="742.5" y1="151.5" x2="742.5" y2="172.5" stroke="#ffffff" stroke-width="1"/>
<line x1="735.5" y1="160.5" x2="745.5" y2="160.5" stroke="#ffffff" stroke-width="1"/>
<rect x="764" y="147" width="3" height="4" fill="#00ff00"/>
<rect x="758" y="150" width="11" height="4" fill="#00ff00"/>
<line x1="751.5" y1="154.5" x2="775.5" y2="154.5" stroke="#00ff00" stroke-width="1"/>
<rect x="763" y="154" width="4" height="3" fill="#00ff00"/>
<rect x="759" y="157" width="8" height="6" fill="#00ff00"/>
<line x1="746.5" y1="163.5" x2="779.5" y2="163.5" stroke="#00ff00" stroke-width="1"/>
<line x1="750.5" y1="164.5" x2="775.5" y2="164.5" stroke="#00ff00" stroke-width="1"/>
<line x1="704.5" y1="172.5" x2="704.5" y2="231.5" stroke="#ffffff" stroke-width="1"/>
<line x1="820.5" y1="172.5" x2="820.5" y2="234.5" stroke="#ffffff" stroke-width="1"/>
<line x1="832.5" y1="172.5" x2="832.5" y2="234.5" stroke="#ffffff" stroke-width="1"/>
<polyline points="704.5,231.5 746.5,231.5 749.5,228.5 778.5,228.5 781.5,231.5 842.5,231.5 842.5,250.5" fill="none" stroke="#ffffff" stroke-width="1"/>
<line x1="683.5" y1="250.5" x2="842.5" y2="250.5" stroke="#ffffff" stroke-width="1"/>
<line x1="683.5" y1="246.5" x2="842.5" y2="246.5" stroke="#ff00ff" stroke-width="1"/>
<polygon points="738.5,198.5 788.5,198.5 788.5,231.5 738.5,231.5" fill="none" stroke="#ffffff" stroke-width="1"/>
<line x1="738.5" y1="214.5" x2="788.5" y2="214.5" stroke="#ffffff" stroke-width="1"/>
<line x1="755.5" y1="228.5" x2="755.5" y2="250.5" stroke="#ffffff" stroke-width="1"/>
<line x1="770.5" y1="228.5" x2="770.5" y2="250.5" stroke="#ffffff" stroke-width="1"/>
<rect x="769" y="241" width="2" height="1" fill="#ff0000"/>
<path clip-path="url(#c21)" d="M672 187L685 174M676 187L689 174M680 187L693 174M684 187L697 174M688 187L701 174M692 187L705 174M696 187L709 174M700 187L713 174" stroke="#00ffff" stroke-width="1" fill="none"/>
<path clip-path="url(#c22)" d="M672 174L685 187M676 174L689 187M680 174L693 187M684 174L697 187M688 174L701 187M692 174L705 187M696 174L709 187M700 174L713 187" stroke="#00ffff" stroke-width="1" fill="none"/>
<polygon points="692.5,172.5 702.5,172.5 702.5,180.5 692.5,180.5" fill="none" stroke="#ffffff" stroke-width="1"/>
<rect x="693" y="173" width="9" height="7" fill="#000"/>
<polygon points="692.5,172.5 702.5,172.5 702.5,180.5 692.5,180.5" fill="none" stroke="#ffffff" stroke-width="1"/>
<line x1="684.5" y1="180.5" x2="704.5" y2="180.5" stroke="#00ff00" stroke-width="1"/>
<rect x="704" y="176" width="5" height="5" fill="#00ff00"/>
<rect x="707" y="173" width="4" height="4" fill="#00ff00"/>
<rect x="709" y="177" width="2" height="2" fill="#00ff00"/>
<line x1="697.5" y1="172.5" x2="697.5" y2="187.5" stroke="#ff0000" stroke-width="1"/>
<path clip-path="url(#c23)" d="M659 218L685 244M663 218L689 244M667 218L693 244M671 218L697 244M675 218L701 244M679 218L705 244M683 218L709 244M687 218L713 244M691 218L717 244M695 218L721 244M699 218L725 244M703 218L729 244" stroke="#00ffff" stroke-width="1" fill="none"/>
<path d="M 684.5 234.5 Q 686 243 694 244 Q 703 243 705 234" fill="none" stroke="#00ff00" stroke-width="1"/>
<rect x="690" y="220" width="7" height="5" fill="#ffff00"/>
<rect x="692" y="221" width="3" height="2" fill="#000"/>
<line x1="692.5" y1="225.5" x2="692.5" y2="243.5" stroke="#ffffff" stroke-width="1"/>
<line x1="697.5" y1="225.5" x2="697.5" y2="243.5" stroke="#ffffff" stroke-width="1"/>
<line x1="694.5" y1="218.5" x2="694.5" y2="244.5" stroke="#ff0000" stroke-width="1"/>
<polyline points="742.5,182.5 723.5,182.5 723.5,203.5 742.5,203.5" fill="none" stroke="#ffff00" stroke-width="1" stroke-dasharray="6 2 2 2" stroke-linecap="butt"/>
<polyline points="784.5,182.5 802.5,182.5 802.5,203.5 784.5,203.5" fill="none" stroke="#ffff00" stroke-width="1" stroke-dasharray="6 2 2 2" stroke-linecap="butt"/>
<path clip-path="url(#c24)" d="M740 209L773 176M744 209L777 176M748 209L781 176M752 209L785 176M756 209L789 176M760 209L793 176M764 209L797 176M768 209L801 176M772 209L805 176M776 209L809 176M780 209L813 176" stroke="#ffff00" stroke-width="1" fill="none"/>
<polyline points="744.5,176.5 783.5,176.5 784.5,177.5 784.5,207.5 783.5,208.5 744.5,208.5 742.5,206.5 742.5,178.5 744.5,176.5" fill="none" stroke="#ffff00" stroke-width="1"/>
<line x1="772.5" y1="176.5" x2="772.5" y2="208.5" stroke="#ffff00" stroke-width="1"/>
<path d="M 758.5 177.5 L 763.5 186.5 L 763.5 197.5 L 756.5 208.5" fill="none" stroke="#ffff00" stroke-width="1" stroke-dasharray="3 1" stroke-linecap="butt"/>
<circle cx="826.5" cy="241.5" r="8" fill="none" stroke="#ffffff" stroke-width="1"/>
<circle cx="826.5" cy="241.5" r="4" fill="none" stroke="#ffffff" stroke-width="1"/>
<line x1="816.5" y1="241.5" x2="837.5" y2="241.5" stroke="#ff0000" stroke-width="1"/>
<line x1="826.5" y1="231.5" x2="826.5" y2="252.5" stroke="#ff0000" stroke-width="1"/>
<line x1="763.5" y1="141.5" x2="763.5" y2="231.5" stroke="#ff0000" stroke-width="1"/>
<line x1="763.5" y1="233.5" x2="763.5" y2="234.5" stroke="#ff0000" stroke-width="1"/>
<line x1="763.5" y1="236.5" x2="763.5" y2="262.5" stroke="#ff0000" stroke-width="1"/>
<line x1="740.5" y1="140.5" x2="740.5" y2="176.5" stroke="#ff0000" stroke-width="1"/>
<line x1="683.5" y1="250.5" x2="683.5" y2="281.5" stroke="#00ff00" stroke-width="1"/>
<line x1="842.5" y1="250.5" x2="842.5" y2="281.5" stroke="#00ff00" stroke-width="1"/>
<line x1="683.5" y1="278.5" x2="842.5" y2="278.5" stroke="#00ff00" stroke-width="1"/>
<rect x="760" y="274" width="5" height="4" fill="#00ff00"/>
<rect x="687" y="277" width="5" height="3" fill="#00ff00"/>
<rect x="834" y="277" width="5" height="3" fill="#00ff00"/>
<line x1="73.5" y1="317.5" x2="82.5" y2="317.5" stroke="#ffffff" stroke-width="1"/>
<line x1="82.5" y1="317.5" x2="247.5" y2="393.5" stroke="#ffffff" stroke-width="1"/>
<rect x="76" y="313" width="3" height="4" fill="#ffffff"/>
<line x1="73.5" y1="331.5" x2="82.5" y2="331.5" stroke="#ffffff" stroke-width="1"/>
<line x1="82.5" y1="331.5" x2="221.5" y2="388.5" stroke="#ffffff" stroke-width="1"/>
<rect x="76" y="327" width="3" height="4" fill="#ffffff"/>
<line x1="73.5" y1="347.5" x2="82.5" y2="347.5" stroke="#ffffff" stroke-width="1"/>
<line x1="82.5" y1="347.5" x2="227.5" y2="459.5" stroke="#ffffff" stroke-width="1"/>
<rect x="76" y="343" width="3" height="4" fill="#ffffff"/>
<line x1="73.5" y1="361.5" x2="82.5" y2="361.5" stroke="#ffffff" stroke-width="1"/>
<line x1="82.5" y1="361.5" x2="209.5" y2="455.5" stroke="#ffffff" stroke-width="1"/>
<rect x="76" y="357" width="3" height="4" fill="#ffffff"/>
<line x1="73.5" y1="372.5" x2="82.5" y2="372.5" stroke="#ffffff" stroke-width="1"/>
<line x1="82.5" y1="372.5" x2="200.5" y2="460.5" stroke="#ffffff" stroke-width="1"/>
<rect x="76" y="368" width="3" height="4" fill="#ffffff"/>
<line x1="73.5" y1="457.5" x2="82.5" y2="457.5" stroke="#ffffff" stroke-width="1"/>
<line x1="82.5" y1="457.5" x2="189.5" y2="535.5" stroke="#ffffff" stroke-width="1"/>
<rect x="76" y="453" width="3" height="4" fill="#ffffff"/>
<rect x="188" y="534" width="2" height="2" fill="#ffffff"/>
<polyline points="161.5,388.5 611.5,388.5" fill="none" stroke="#ffffff" stroke-width="1"/>
<polyline points="161.5,388.5 145.5,403.5 141.5,408.5 141.5,453.5" fill="none" stroke="#ffffff" stroke-width="1"/>
<polyline points="141.5,483.5 141.5,528.5 160.5,547.5 611.5,547.5 613.5,546.5 631.5,528.5 631.5,483.5" fill="none" stroke="#ffffff" stroke-width="1"/>
<polyline points="611.5,388.5 625.5,401.5 630.5,406.5 631.5,410.5 631.5,453.5" fill="none" stroke="#ffffff" stroke-width="1"/>
<path d="M 141.5 453.5 L 160.5 453.5 A 15 15 0 0 1 160.5 483.5 L 141.5 483.5" fill="none" stroke="#ffffff" stroke-width="1"/>
<path d="M 141.5 461.5 L 160.5 461.5 A 7 7 0 0 1 160.5 475.5 L 141.5 475.5" fill="none" stroke="#ffffff" stroke-width="1"/>
<line x1="141.5" y1="453.5" x2="141.5" y2="461.5" stroke="#ffffff" stroke-width="1"/>
<line x1="141.5" y1="475.5" x2="141.5" y2="483.5" stroke="#ffffff" stroke-width="1"/>
<path d="M 631.5 453.5 L 611.5 453.5 A 15 15 0 0 0 611.5 483.5 L 631.5 483.5" fill="none" stroke="#ffffff" stroke-width="1"/>
<path d="M 631.5 460.5 L 611.5 460.5 A 7.5 7.5 0 0 0 611.5 475.5 L 631.5 475.5" fill="none" stroke="#ffffff" stroke-width="1"/>
<line x1="631.5" y1="453.5" x2="631.5" y2="460.5" stroke="#ffffff" stroke-width="1"/>
<line x1="631.5" y1="475.5" x2="631.5" y2="483.5" stroke="#ffffff" stroke-width="1"/>
<path clip-path="url(#c25)" d="M241 394L248 387M245 394L252 387M250 394L257 387M254 394L261 387M259 394L266 387M263 394L270 387M267 394L274 387M272 394L279 387M276 394L283 387M281 394L288 387M285 394L292 387M289 394L296 387M294 394L301 387M298 394L305 387M303 394L310 387M307 394L314 387M311 394L318 387M316 394L323 387M320 394L327 387M325 394L332 387M329 394L336 387M333 394L340 387M338 394L345 387M342 394L349 387M347 394L354 387M351 394L358 387M355 394L362 387M360 394L367 387M364 394L371 387M369 394L376 387M373 394L380 387M377 394L384 387M382 394L389 387M386 394L393 387M391 394L398 387M395 394L402 387M399 394L406 387M404 394L411 387M408 394L415 387M413 394L420 387M417 394L424 387M421 394L428 387M426 394L433 387M430 394L437 387M435 394L442 387M439 394L446 387M443 394L450 387M448 394L455 387M452 394L459 387M457 394L464 387M461 394L468 387M465 394L472 387M470 394L477 387" stroke="#00ffff" stroke-width="1" fill="none"/>
<path clip-path="url(#c26)" d="M234 413L248 399M238 413L252 399M243 413L257 399M247 413L261 399M252 413L266 399M256 413L270 399M260 413L274 399M265 413L279 399M269 413L283 399M274 413L288 399M278 413L292 399M282 413L296 399M287 413L301 399M291 413L305 399M296 413L310 399M300 413L314 399M304 413L318 399M309 413L323 399M313 413L327 399M318 413L332 399M322 413L336 399M326 413L340 399M331 413L345 399M335 413L349 399M340 413L354 399M344 413L358 399M348 413L362 399M353 413L367 399M357 413L371 399M362 413L376 399M366 413L380 399M370 413L384 399M375 413L389 399M379 413L393 399M384 413L398 399M388 413L402 399M392 413L406 399M397 413L411 399M401 413L415 399M406 413L420 399M410 413L424 399M414 413L428 399M419 413L433 399M423 413L437 399M428 413L442 399M432 413L446 399M436 413L450 399M441 413L455 399M445 413L459 399M450 413L464 399M454 413L468 399M458 413L472 399M463 413L477 399M467 413L481 399M472 413L486 399" stroke="#00ffff" stroke-width="1" fill="none"/>
<line x1="238.5" y1="393.5" x2="485.5" y2="393.5" stroke="#ffffff" stroke-width="1"/>
<line x1="238.5" y1="400.5" x2="485.5" y2="400.5" stroke="#ffffff" stroke-width="1"/>
<polyline points="247.5,410.5 280.5,411.5 301.5,412.5 330.5,411.5 362.5,409.5 400.5,409.5 425.5,407.5 440.5,408.5 460.5,410.5 475.5,412.5" fill="none" stroke="#ffffff" stroke-width="1"/>
<line x1="247.5" y1="388.5" x2="247.5" y2="485.5" stroke="#ffffff" stroke-width="1"/>
<path d="M 247.5 485.5 Q 248.5 490.5 253 491.5" fill="none" stroke="#ffffff" stroke-width="1"/>
<line x1="475.5" y1="388.5" x2="475.5" y2="442.5" stroke="#ffffff" stroke-width="1"/>
<line x1="238.5" y1="388.5" x2="238.5" y2="408.5" stroke="#ffffff" stroke-width="1"/>
<line x1="485.5" y1="388.5" x2="485.5" y2="408.5" stroke="#ffffff" stroke-width="1"/>
<polygon points="219.5,388.5 238.5,388.5 238.5,408.5 219.5,408.5" fill="none" stroke="#ffffff" stroke-width="1"/>
<circle cx="229" cy="398.5" r="6.5" fill="none" stroke="#ffffff" stroke-width="1"/>
<circle cx="229" cy="398.5" r="4" fill="none" stroke="#ffffff" stroke-width="1"/>
<line x1="222" y1="398.5" x2="236" y2="398.5" stroke="#ff0000" stroke-width="1"/>
<line x1="229" y1="391.5" x2="229" y2="405.5" stroke="#ff0000" stroke-width="1"/>
<polygon points="485.5,388.5 504.5,388.5 504.5,408.5 485.5,408.5" fill="none" stroke="#ffffff" stroke-width="1"/>
<circle cx="495" cy="398.5" r="6.5" fill="none" stroke="#ffffff" stroke-width="1"/>
<circle cx="495" cy="398.5" r="4" fill="none" stroke="#ffffff" stroke-width="1"/>
<line x1="488" y1="398.5" x2="502" y2="398.5" stroke="#ff0000" stroke-width="1"/>
<line x1="495" y1="391.5" x2="495" y2="405.5" stroke="#ff0000" stroke-width="1"/>
<line x1="238.5" y1="408.5" x2="247.5" y2="408.5" stroke="#ffffff" stroke-width="1"/>
<line x1="221.5" y1="396.5" x2="236.5" y2="396.5" stroke="#ff0000" stroke-width="1"/>
<line x1="248.5" y1="396.5" x2="475.5" y2="396.5" stroke="#ff0000" stroke-width="1" stroke-dasharray="10 1.5 2 1.5" stroke-linecap="butt"/>
<line x1="487.5" y1="396.5" x2="502.5" y2="396.5" stroke="#ff0000" stroke-width="1"/>
<polyline points="247.5,442.5 196.5,442.5 196.5,493.5 260.5,493.5 260.5,489.5" fill="none" stroke="#ffffff" stroke-width="1"/>
<line x1="260.5" y1="491.5" x2="463.5" y2="491.5" stroke="#ffffff" stroke-width="1"/>
<line x1="463.5" y1="491.5" x2="463.5" y2="493.5" stroke="#ffffff" stroke-width="1"/>
<line x1="463.5" y1="493.5" x2="545.5" y2="493.5" stroke="#ffffff" stroke-width="1"/>
<polygon points="214,454.5 210.75,460.13 204.25,460.13 201,454.5 204.25,448.87 210.75,448.87" fill="none" stroke="#ffffff" stroke-width="1"/>
<circle cx="207.5" cy="454.5" r="3.5" fill="none" stroke="#ffffff" stroke-width="1"/>
<line x1="207.5" y1="442.5" x2="207.5" y2="467.5" stroke="#ff0000" stroke-width="1" stroke-dasharray="14 2 2 2" stroke-linecap="butt"/>
<circle cx="230.5" cy="454.5" r="4.5" fill="none" stroke="#ffffff" stroke-width="1"/>
<circle cx="230.5" cy="454.5" r="2.5" fill="none" stroke="#ffffff" stroke-width="1"/>
<line x1="230.5" y1="442.5" x2="230.5" y2="467.5" stroke="#ff0000" stroke-width="1" stroke-dasharray="14 2 2 2" stroke-linecap="butt"/>
<circle cx="207.5" cy="482.5" r="4.5" fill="none" stroke="#ffffff" stroke-width="1"/>
<circle cx="207.5" cy="482.5" r="2.5" fill="none" stroke="#ffffff" stroke-width="1"/>
<line x1="207.5" y1="470.5" x2="207.5" y2="495.5" stroke="#ff0000" stroke-width="1" stroke-dasharray="14 2 2 2" stroke-linecap="butt"/>
<polygon points="237,482.5 233.75,488.13 227.25,488.13 224,482.5 227.25,476.87 233.75,476.87" fill="none" stroke="#ffffff" stroke-width="1"/>
<circle cx="230.5" cy="482.5" r="3.5" fill="none" stroke="#ffffff" stroke-width="1"/>
<line x1="230.5" y1="470.5" x2="230.5" y2="495.5" stroke="#ff0000" stroke-width="1" stroke-dasharray="14 2 2 2" stroke-linecap="butt"/>
<line x1="193.5" y1="454.5" x2="242.5" y2="454.5" stroke="#ff0000" stroke-width="1"/>
<line x1="193.5" y1="482.5" x2="242.5" y2="482.5" stroke="#ff0000" stroke-width="1"/>
<circle cx="266.5" cy="468.5" r="17.5" fill="none" stroke="#ffffff" stroke-width="1"/>
<circle cx="266.5" cy="468.5" r="15.5" fill="none" stroke="#ffffff" stroke-width="1"/>
<circle cx="266.5" cy="468.5" r="20" fill="none" stroke="#ffff00" stroke-width="1" stroke-dasharray="6 2" stroke-linecap="butt"/>
<circle cx="266.5" cy="468.5" r="10.5" fill="none" stroke="#ffff00" stroke-width="1"/>
<circle cx="266.5" cy="468.5" r="11.5" fill="none" stroke="#ffff00" stroke-width="1" stroke-dasharray="4 2" stroke-linecap="butt"/>
<circle cx="266.5" cy="468.5" r="9" fill="none" stroke="#ffffff" stroke-width="1"/>
<circle cx="266.5" cy="444.5" r="7.5" fill="none" stroke="#ffffff" stroke-width="2"/>
<line x1="266.5" y1="432.5" x2="266.5" y2="490.5" stroke="#ff0000" stroke-width="1"/>
<polyline points="246.5,458.5 239.5,464.5 239.5,472.5 246.5,478.5" fill="none" stroke="#ffffff" stroke-width="1"/>
<line x1="259.5" y1="445.5" x2="248.5" y2="457.5" stroke="#ff00ff" stroke-width="2"/>
<line x1="259.5" y1="491.5" x2="248.5" y2="479.5" stroke="#ff00ff" stroke-width="2"/>
<line x1="258.5" y1="442.5" x2="248.5" y2="442.5" stroke="#ff00ff" stroke-width="1"/>
<line x1="260.5" y1="455.5" x2="275.5" y2="475.5" stroke="#ff0000" stroke-width="1"/>
<line x1="275.5" y1="449.5" x2="284.5" y2="457.5" stroke="#ffff00" stroke-width="1"/>
<line x1="275.5" y1="487.5" x2="284.5" y2="479.5" stroke="#ffff00" stroke-width="1"/>
<path clip-path="url(#c27)" d="M238.93 465.07L252.04 451.96M241.93 465.07L255.04 451.96M244.93 465.07L258.04 451.96M247.93 465.07L261.04 451.96M250.93 465.07L264.04 451.96M253.93 465.07L267.04 451.96M256.93 465.07L270.04 451.96M259.93 465.07L273.04 451.96" stroke="#ffff00" stroke-width="1" fill="none"/>
<circle cx="456.5" cy="468.5" r="17.5" fill="none" stroke="#ffffff" stroke-width="1"/>
<circle cx="456.5" cy="468.5" r="15.5" fill="none" stroke="#ffffff" stroke-width="1"/>
<circle cx="456.5" cy="468.5" r="20" fill="none" stroke="#ffff00" stroke-width="1" stroke-dasharray="6 2" stroke-linecap="butt"/>
<circle cx="456.5" cy="468.5" r="10.5" fill="none" stroke="#ffff00" stroke-width="1"/>
<circle cx="456.5" cy="468.5" r="11.5" fill="none" stroke="#ffff00" stroke-width="1" stroke-dasharray="4 2" stroke-linecap="butt"/>
<circle cx="456.5" cy="468.5" r="9" fill="none" stroke="#ffffff" stroke-width="1"/>
<circle cx="456.5" cy="444.5" r="7.5" fill="none" stroke="#ffffff" stroke-width="2"/>
<line x1="456.5" y1="432.5" x2="456.5" y2="490.5" stroke="#ff0000" stroke-width="1"/>
<polyline points="476.5,458.5 483.5,464.5 483.5,472.5 476.5,478.5" fill="none" stroke="#ffffff" stroke-width="1"/>
<line x1="463.5" y1="445.5" x2="474.5" y2="457.5" stroke="#ff00ff" stroke-width="2"/>
<line x1="463.5" y1="491.5" x2="474.5" y2="479.5" stroke="#ff00ff" stroke-width="2"/>
<line x1="464.5" y1="442.5" x2="474.5" y2="442.5" stroke="#ff00ff" stroke-width="1"/>
<line x1="457.5" y1="469.5" x2="469.5" y2="489.5" stroke="#ff0000" stroke-width="1" stroke-dasharray="3 1" stroke-linecap="butt"/>
<line x1="447.5" y1="449.5" x2="438.5" y2="457.5" stroke="#ffff00" stroke-width="1"/>
<line x1="447.5" y1="487.5" x2="438.5" y2="479.5" stroke="#ffff00" stroke-width="1"/>
<path clip-path="url(#c28)" d="M447.96 484.04L461.07 470.93M450.96 484.04L464.07 470.93M453.96 484.04L467.07 470.93M456.96 484.04L470.07 470.93M459.96 484.04L473.07 470.93M462.96 484.04L476.07 470.93M465.96 484.04L479.07 470.93M468.96 484.04L482.07 470.93" stroke="#ffff00" stroke-width="1" fill="none"/>
<line x1="260.5" y1="442.5" x2="248.5" y2="442.5" stroke="#ff00ff" stroke-width="1"/>
<circle cx="361.5" cy="468.5" r="39.5" fill="none" stroke="#ffff00" stroke-width="1" stroke-dasharray="9 1 2 1" stroke-linecap="butt"/>
<circle cx="361.5" cy="468.5" r="31.5" fill="none" stroke="#ffff00" stroke-width="1" stroke-dasharray="12 1 2 1" stroke-linecap="butt"/>
<line x1="359.5" y1="429.5" x2="359.5" y2="437.5" stroke="#ffff00" stroke-width="1"/>
<line x1="363.5" y1="429.5" x2="363.5" y2="437.5" stroke="#ffff00" stroke-width="1"/>
<line x1="359.5" y1="500.5" x2="359.5" y2="508.5" stroke="#ffff00" stroke-width="1"/>
<line x1="363.5" y1="500.5" x2="363.5" y2="508.5" stroke="#ffff00" stroke-width="1"/>
<path d="M 275.5 449.5 Q 310 449 331.5 440.5" fill="none" stroke="#ffff00" stroke-width="1" stroke-dasharray="14 1 2 1" stroke-linecap="butt"/>
<path d="M 284.5 456.5 Q 305 455 325 451.5" fill="none" stroke="#ffff00" stroke-width="1" stroke-dasharray="14 1 2 1" stroke-linecap="butt"/>
<path d="M 275.5 486.5 Q 310 487.5 331.5 496.5" fill="none" stroke="#ffff00" stroke-width="1" stroke-dasharray="14 1 2 1" stroke-linecap="butt"/>
<path d="M 284.5 480.5 Q 305 482 325 485.5" fill="none" stroke="#ffff00" stroke-width="1" stroke-dasharray="14 1 2 1" stroke-linecap="butt"/>
<path d="M 448.1 449.5 Q 412.6 449 391.1 440.5" fill="none" stroke="#ffff00" stroke-width="1" stroke-dasharray="14 1 2 1" stroke-linecap="butt"/>
<path d="M 439.1 456.5 Q 417.6 455 397.6 451.5" fill="none" stroke="#ffff00" stroke-width="1" stroke-dasharray="14 1 2 1" stroke-linecap="butt"/>
<path d="M 448.1 486.5 Q 412.6 487.5 391.1 496.5" fill="none" stroke="#ffff00" stroke-width="1" stroke-dasharray="14 1 2 1" stroke-linecap="butt"/>
<path d="M 439.1 480.5 Q 417.6 482 397.6 485.5" fill="none" stroke="#ffff00" stroke-width="1" stroke-dasharray="14 1 2 1" stroke-linecap="butt"/>
<line x1="475.5" y1="442.5" x2="545.5" y2="442.5" stroke="#ffffff" stroke-width="1"/>
<polygon points="501.5,433.5 545.5,433.5 545.5,442.5 501.5,442.5" fill="none" stroke="#ffffff" stroke-width="1"/>
<polygon points="501.5,493.5 545.5,493.5 545.5,502.5 501.5,502.5" fill="none" stroke="#ffffff" stroke-width="1"/>
<polyline points="566.5,462.5 566.5,433.5 545.5,433.5 545.5,502.5 566.5,502.5 566.5,474.5" fill="none" stroke="#ffffff" stroke-width="1"/>
<line x1="545.5" y1="433.5" x2="545.5" y2="502.5" stroke="#ffffff" stroke-width="1"/>
<line x1="532.5" y1="442.5" x2="532.5" y2="492.5" stroke="#ffffff" stroke-width="1"/>
<line x1="545.5" y1="459.5" x2="566.5" y2="459.5" stroke="#ffffff" stroke-width="1"/>
<line x1="545.5" y1="461.5" x2="566.5" y2="461.5" stroke="#ffffff" stroke-width="1"/>
<line x1="545.5" y1="474.5" x2="566.5" y2="474.5" stroke="#ffffff" stroke-width="1"/>
<line x1="545.5" y1="477.5" x2="566.5" y2="477.5" stroke="#ffffff" stroke-width="1"/>
<circle cx="556.5" cy="442.5" r="5.5" fill="none" stroke="#ffffff" stroke-width="1"/>
<circle cx="556.5" cy="442.5" r="3" fill="none" stroke="#ffffff" stroke-width="1"/>
<line x1="550.5" y1="442.5" x2="563.5" y2="442.5" stroke="#ff0000" stroke-width="1"/>
<line x1="556.5" y1="436.5" x2="556.5" y2="448.5" stroke="#ff0000" stroke-width="1"/>
<circle cx="556.5" cy="494.5" r="5.5" fill="none" stroke="#ffffff" stroke-width="1"/>
<circle cx="556.5" cy="494.5" r="3" fill="none" stroke="#ffffff" stroke-width="1"/>
<line x1="550.5" y1="494.5" x2="563.5" y2="494.5" stroke="#ff0000" stroke-width="1"/>
<line x1="556.5" y1="488.5" x2="556.5" y2="500.5" stroke="#ff0000" stroke-width="1"/>
<line x1="532.5" y1="462.5" x2="576.5" y2="462.5" stroke="#ffffff" stroke-width="1"/>
<line x1="532.5" y1="473.5" x2="576.5" y2="473.5" stroke="#ffffff" stroke-width="1"/>
<path d="M 531.5 458.5 L 524 458.5 Q 519.5 458.5 519.5 463 L 519.5 474 Q 519.5 479.5 524 479.5 L 531.5 479.5" fill="none" stroke="#ffffff" stroke-width="1"/>
<line x1="525.5" y1="461.5" x2="525.5" y2="477.5" stroke="#ffffff" stroke-width="1"/>
<polygon points="576.5,460.5 583.5,460.5 583.5,476.5 576.5,476.5" fill="none" stroke="#ffffff" stroke-width="1"/>
<line x1="578.5" y1="461.5" x2="578.5" y2="475.5" stroke="#ffffff" stroke-width="1"/>
<line x1="580.5" y1="464.5" x2="580.5" y2="472.5" stroke="#ff0000" stroke-width="1"/>
<line x1="121.5" y1="468.5" x2="129.5" y2="468.5" stroke="#ff0000" stroke-width="1"/>
<line x1="130.5" y1="468.5" x2="130.5" y2="468.5" stroke="#ff0000" stroke-width="1"/>
<line x1="132.5" y1="468.5" x2="143.5" y2="468.5" stroke="#ff0000" stroke-width="1"/>
<line x1="145.5" y1="468.5" x2="145.5" y2="468.5" stroke="#ff0000" stroke-width="1"/>
<line x1="147.5" y1="468.5" x2="171.5" y2="468.5" stroke="#ff0000" stroke-width="1"/>
<line x1="173.5" y1="468.5" x2="173.5" y2="468.5" stroke="#ff0000" stroke-width="1"/>
<line x1="175.5" y1="468.5" x2="619.5" y2="468.5" stroke="#ff0000" stroke-width="1"/>
<line x1="621.5" y1="468.5" x2="621.5" y2="468.5" stroke="#ff0000" stroke-width="1"/>
<line x1="623.5" y1="468.5" x2="635.5" y2="468.5" stroke="#ff0000" stroke-width="1"/>
<line x1="361.5" y1="410.5" x2="361.5" y2="519.5" stroke="#ff0000" stroke-width="1"/>
<line x1="160.5" y1="449.5" x2="160.5" y2="484.5" stroke="#ff0000" stroke-width="1"/>
<line x1="611.5" y1="451.5" x2="611.5" y2="484.5" stroke="#ff0000" stroke-width="1"/>
<line x1="160.5" y1="485.5" x2="160.5" y2="583.5" stroke="#00ff00" stroke-width="1"/>
<line x1="611.5" y1="485.5" x2="611.5" y2="583.5" stroke="#00ff00" stroke-width="1"/>
<line x1="160.5" y1="582.5" x2="611.5" y2="582.5" stroke="#00ff00" stroke-width="1"/>
<rect x="164" y="581" width="5" height="3" fill="#00ff00"/>
<rect x="603" y="581" width="5" height="3" fill="#00ff00"/>
<rect x="383" y="577" width="5" height="5" fill="#00ff00"/>
<rect x="290" y="382" width="8" height="3" fill="#00ff00"/>
<rect x="292" y="385" width="7" height="3" fill="#00ff00"/>
<rect x="294" y="381" width="1" height="1" fill="#00ff00"/>
<rect x="298" y="381" width="1" height="1" fill="#00ff00"/>
<line x1="298.5" y1="388.5" x2="298.5" y2="408.5" stroke="#00ff00" stroke-width="1"/>
<rect x="297" y="404" width="3" height="5" fill="#00ff00"/>
<line x1="291.5" y1="400.5" x2="298.5" y2="400.5" stroke="#00ff00" stroke-width="1"/>
<line x1="296.5" y1="393.5" x2="299.5" y2="393.5" stroke="#00ff00" stroke-width="1"/>
<rect x="583" y="452" width="10" height="32" fill="#ffffff"/>
<rect x="584" y="456" width="1" height="1" fill="#000"/>
<rect x="584" y="459" width="1" height="1" fill="#000"/>
<rect x="584" y="462" width="1" height="1" fill="#000"/>
<rect x="584" y="468" width="1" height="1" fill="#000"/>
<rect x="584" y="474" width="1" height="1" fill="#000"/>
<rect x="584" y="477" width="1" height="1" fill="#000"/>
<rect x="588" y="457" width="1" height="1" fill="#000"/>
<rect x="588" y="460" width="1" height="1" fill="#000"/>
<rect x="588" y="463" width="1" height="1" fill="#000"/>
<rect x="588" y="466" width="1" height="1" fill="#000"/>
<rect x="588" y="472" width="1" height="1" fill="#000"/>
<rect x="588" y="475" width="1" height="1" fill="#000"/>
<rect x="588" y="478" width="1" height="1" fill="#000"/>
<rect x="588" y="481" width="1" height="1" fill="#000"/>
<rect x="591" y="460" width="1" height="1" fill="#000"/>
<rect x="591" y="463" width="1" height="1" fill="#000"/>
<rect x="591" y="469" width="1" height="1" fill="#000"/>
<rect x="591" y="472" width="1" height="1" fill="#000"/>
<rect x="591" y="478" width="1" height="1" fill="#000"/>
<rect x="589" y="454" width="1" height="1" fill="#000"/>
<rect x="590" y="455" width="1" height="1" fill="#000"/>
<rect x="589" y="473" width="1" height="1" fill="#000"/>
<rect x="590" y="474" width="1" height="1" fill="#000"/>
<rect x="588" y="450" width="1" height="2" fill="#ff0000"/>
<rect x="588" y="484" width="1" height="2" fill="#ff0000"/>
<rect x="586" y="467" width="5" height="1" fill="#ff0000"/>
<rect x="588" y="465" width="1" height="5" fill="#ff0000"/>
<path transform="translate(764.5,428.5)" d="M0 1H3M1 0V6M0 4L3 3M4 1H7M5 0V2M4 3H7L4 6M5 4L7 6" fill="none" stroke="#e8ecf4" stroke-width="1"/>
<path transform="translate(773.5,428.5)" d="M0 2H7M3 0V6M1 1L2 2M3 2L0 5M3 2L7 5M5 0L6 1" fill="none" stroke="#e8ecf4" stroke-width="1"/>
<path transform="translate(782.5,428.5)" d="M0 0H7M2 0V2M5 0V2M0 2H7M1 3H6M3 3L2 5M0 5H7M2 4L5 6" fill="none" stroke="#e8ecf4" stroke-width="1"/>
<path transform="translate(791.5,428.5)" d="M0 1H7M3 0V6L2 5M0 3L2 4M5 2L3 4M4 3L7 6M6 0L7 1" fill="none" stroke="#e8ecf4" stroke-width="1"/>
<rect x="714" y="438" width="61" height="6" fill="#ffffff"/>
<rect x="777" y="438" width="21" height="6" fill="#ffffff"/>
<rect x="800" y="438" width="10" height="6" fill="#ffffff"/>
<rect x="811" y="438" width="14" height="6" fill="#ffffff"/>
<rect x="826" y="438" width="10" height="6" fill="#ffffff"/>
<rect x="838" y="438" width="9" height="6" fill="#ffffff"/>
<rect x="849" y="438" width="9" height="6" fill="#ffffff"/>
<rect x="860" y="438" width="28" height="6" fill="#ffffff"/>
<rect x="714" y="447" width="42" height="5" fill="#ffffff"/>
<rect x="757" y="447" width="24" height="5" fill="#ffffff"/>
<rect x="782" y="447" width="13" height="5" fill="#ffffff"/>
<rect x="796" y="447" width="2" height="5" fill="#ffffff"/>
<rect x="800" y="447" width="74" height="5" fill="#ffffff"/>
<rect x="714" y="455" width="47" height="5" fill="#ffffff"/>
<rect x="762" y="455" width="5" height="5" fill="#ffffff"/>
<rect x="771" y="455" width="20" height="5" fill="#ffffff"/>
<rect x="717" y="443" width="1" height="1" fill="#000"/>
<rect x="719" y="443" width="1" height="1" fill="#000"/>
<rect x="722" y="443" width="1" height="1" fill="#000"/>
<rect x="724" y="443" width="1" height="1" fill="#000"/>
<rect x="726" y="443" width="1" height="1" fill="#000"/>
<rect x="727" y="443" width="1" height="1" fill="#000"/>
<rect x="730" y="443" width="1" height="1" fill="#000"/>
<rect x="731" y="439" width="1" height="1" fill="#000"/>
<rect x="735" y="443" width="1" height="1" fill="#000"/>
<rect x="738" y="443" width="1" height="1" fill="#000"/>
<rect x="739" y="443" width="1" height="1" fill="#000"/>
<rect x="742" y="440" width="1" height="1" fill="#000"/>
<rect x="745" y="443" width="1" height="1" fill="#000"/>
<rect x="746" y="443" width="1" height="1" fill="#000"/>
<rect x="747" y="442" width="1" height="1" fill="#000"/>
<rect x="752" y="440" width="1" height="1" fill="#000"/>
<rect x="754" y="441" width="1" height="1" fill="#000"/>
<rect x="760" y="443" width="1" height="1" fill="#000"/>
<rect x="763" y="443" width="1" height="1" fill="#000"/>
<rect x="765" y="443" width="1" height="1" fill="#000"/>
<rect x="784" y="443" width="1" height="1" fill="#000"/>
<rect x="792" y="443" width="1" height="1" fill="#000"/>
<rect x="794" y="443" width="1" height="1" fill="#000"/>
<rect x="795" y="443" width="1" height="1" fill="#000"/>
<rect x="796" y="443" width="1" height="1" fill="#000"/>
<rect x="803" y="443" width="1" height="1" fill="#000"/>
<rect x="804" y="442" width="1" height="1" fill="#000"/>
<rect x="807" y="443" width="1" height="1" fill="#000"/>
<rect x="814" y="443" width="1" height="1" fill="#000"/>
<rect x="821" y="439" width="1" height="1" fill="#000"/>
<rect x="822" y="443" width="1" height="1" fill="#000"/>
<rect x="823" y="440" width="1" height="1" fill="#000"/>
<rect x="828" y="443" width="1" height="1" fill="#000"/>
<rect x="830" y="441" width="1" height="1" fill="#000"/>
<rect x="831" y="443" width="1" height="1" fill="#000"/>
<rect x="845" y="443" width="1" height="1" fill="#000"/>
<rect x="862" y="443" width="1" height="1" fill="#000"/>
<rect x="864" y="443" width="1" height="1" fill="#000"/>
<rect x="865" y="443" width="1" height="1" fill="#000"/>
<rect x="866" y="440" width="1" height="1" fill="#000"/>
<rect x="867" y="443" width="1" height="1" fill="#000"/>
<rect x="869" y="443" width="1" height="1" fill="#000"/>
<rect x="874" y="443" width="1" height="1" fill="#000"/>
<rect x="875" y="442" width="1" height="1" fill="#000"/>
<rect x="876" y="443" width="1" height="1" fill="#000"/>
<rect x="877" y="441" width="1" height="1" fill="#000"/>
<rect x="880" y="443" width="1" height="1" fill="#000"/>
<rect x="885" y="443" width="1" height="1" fill="#000"/>
<rect x="720" y="450" width="1" height="1" fill="#000"/>
<rect x="727" y="451" width="1" height="1" fill="#000"/>
<rect x="732" y="450" width="1" height="1" fill="#000"/>
<rect x="735" y="448" width="1" height="1" fill="#000"/>
<rect x="739" y="450" width="1" height="1" fill="#000"/>
<rect x="745" y="450" width="1" height="1" fill="#000"/>
<rect x="752" y="448" width="1" height="1" fill="#000"/>
<rect x="762" y="451" width="1" height="1" fill="#000"/>
<rect x="767" y="451" width="1" height="1" fill="#000"/>
<rect x="770" y="448" width="1" height="1" fill="#000"/>
<rect x="773" y="451" width="1" height="1" fill="#000"/>
<rect x="778" y="451" width="1" height="1" fill="#000"/>
<rect x="779" y="451" width="1" height="1" fill="#000"/>
<rect x="785" y="451" width="1" height="1" fill="#000"/>
<rect x="793" y="451" width="1" height="1" fill="#000"/>
<rect x="803" y="451" width="1" height="1" fill="#000"/>
<rect x="806" y="451" width="1" height="1" fill="#000"/>
<rect x="808" y="451" width="1" height="1" fill="#000"/>
<rect x="810" y="448" width="1" height="1" fill="#000"/>
<rect x="811" y="451" width="1" height="1" fill="#000"/>
<rect x="812" y="450" width="1" height="1" fill="#000"/>
<rect x="813" y="450" width="1" height="1" fill="#000"/>
<rect x="817" y="451" width="1" height="1" fill="#000"/>
<rect x="825" y="451" width="1" height="1" fill="#000"/>
<rect x="826" y="451" width="1" height="1" fill="#000"/>
<rect x="832" y="451" width="1" height="1" fill="#000"/>
<rect x="833" y="451" width="1" height="1" fill="#000"/>
<rect x="835" y="451" width="1" height="1" fill="#000"/>
<rect x="836" y="451" width="1" height="1" fill="#000"/>
<rect x="842" y="451" width="1" height="1" fill="#000"/>
<rect x="843" y="448" width="1" height="1" fill="#000"/>
<rect x="861" y="450" width="1" height="1" fill="#000"/>
<rect x="863" y="449" width="1" height="1" fill="#000"/>
<rect x="864" y="451" width="1" height="1" fill="#000"/>
<rect x="865" y="451" width="1" height="1" fill="#000"/>
<rect x="867" y="451" width="1" height="1" fill="#000"/>
<rect x="868" y="448" width="1" height="1" fill="#000"/>
<rect x="869" y="449" width="1" height="1" fill="#000"/>
<rect x="872" y="451" width="1" height="1" fill="#000"/>
<rect x="718" y="459" width="1" height="1" fill="#000"/>
<rect x="721" y="456" width="1" height="1" fill="#000"/>
<rect x="726" y="459" width="1" height="1" fill="#000"/>
<rect x="730" y="457" width="1" height="1" fill="#000"/>
<rect x="731" y="459" width="1" height="1" fill="#000"/>
<rect x="740" y="459" width="1" height="1" fill="#000"/>
<rect x="742" y="456" width="1" height="1" fill="#000"/>
<rect x="743" y="459" width="1" height="1" fill="#000"/>
<rect x="746" y="456" width="1" height="1" fill="#000"/>
<rect x="758" y="456" width="1" height="1" fill="#000"/>
<rect x="764" y="459" width="1" height="1" fill="#000"/>
<rect x="765" y="459" width="1" height="1" fill="#000"/>
<rect x="775" y="457" width="1" height="1" fill="#000"/>
<rect x="782" y="459" width="1" height="1" fill="#000"/>
<rect x="784" y="456" width="1" height="1" fill="#000"/>
<rect x="787" y="457" width="1" height="1" fill="#000"/>
<rect x="792" y="514" width="74" height="90" fill="#ffffff"/>
<line x1="792.5" y1="514.5" x2="934.5" y2="514.5" stroke="#ffffff" stroke-width="1"/>
<line x1="792.5" y1="514.5" x2="792.5" y2="658.5" stroke="#ffffff" stroke-width="1"/>
<rect x="809" y="515" width="21" height="5" fill="#000"/>
<rect x="839" y="515" width="27" height="5" fill="#000"/>
<rect x="796" y="515" width="2" height="5" fill="#000"/>
<rect x="793" y="515" width="4" height="1" fill="#000"/>
<rect x="799" y="515" width="10" height="1" fill="#000"/>
<rect x="831" y="515" width="8" height="1" fill="#000"/>
<rect x="866" y="515" width="6" height="5" fill="#ffffff"/>
<rect x="869" y="516" width="2" height="4" fill="#000"/>
<rect x="867" y="515" width="3" height="1" fill="#000"/>
<rect x="872" y="515" width="3" height="5" fill="#ffffff"/>
<line x1="866.5" y1="520.5" x2="934.5" y2="520.5" stroke="#ffffff" stroke-width="1"/>
<rect x="820" y="521" width="10" height="4" fill="#000"/>
<rect x="848" y="521" width="18" height="4" fill="#000"/>
<rect x="796" y="521" width="2" height="4" fill="#000"/>
<rect x="866" y="521" width="6" height="4" fill="#ffffff"/>
<rect x="869" y="522" width="2" height="3" fill="#000"/>
<rect x="872" y="521" width="3" height="4" fill="#ffffff"/>
<line x1="866.5" y1="525.5" x2="934.5" y2="525.5" stroke="#ffffff" stroke-width="1"/>
<rect x="820" y="526" width="10" height="4" fill="#000"/>
<rect x="842" y="526" width="24" height="4" fill="#000"/>
<rect x="796" y="526" width="2" height="4" fill="#000"/>
<rect x="793" y="526" width="4" height="1" fill="#000"/>
<rect x="799" y="526" width="21" height="1" fill="#000"/>
<rect x="831" y="526" width="11" height="1" fill="#000"/>
<rect x="866" y="526" width="6" height="4" fill="#ffffff"/>
<rect x="869" y="527" width="2" height="3" fill="#000"/>
<rect x="867" y="526" width="3" height="1" fill="#000"/>
<rect x="872" y="526" width="3" height="4" fill="#ffffff"/>
<line x1="866.5" y1="530.5" x2="934.5" y2="530.5" stroke="#ffffff" stroke-width="1"/>
<rect x="820" y="531" width="10" height="5" fill="#000"/>
<rect x="842" y="531" width="24" height="5" fill="#000"/>
<rect x="796" y="531" width="2" height="5" fill="#000"/>
<rect x="866" y="531" width="6" height="5" fill="#ffffff"/>
<rect x="869" y="532" width="2" height="4" fill="#000"/>
<rect x="872" y="531" width="3" height="5" fill="#ffffff"/>
<line x1="866.5" y1="536.5" x2="934.5" y2="536.5" stroke="#ffffff" stroke-width="1"/>
<rect x="820" y="537" width="10" height="5" fill="#000"/>
<rect x="843" y="537" width="23" height="5" fill="#000"/>
<rect x="796" y="537" width="2" height="5" fill="#000"/>
<rect x="793" y="537" width="4" height="1" fill="#000"/>
<rect x="799" y="537" width="21" height="1" fill="#000"/>
<rect x="831" y="537" width="12" height="1" fill="#000"/>
<rect x="866" y="537" width="6" height="5" fill="#ffffff"/>
<rect x="869" y="538" width="2" height="4" fill="#000"/>
<rect x="867" y="537" width="3" height="1" fill="#000"/>
<rect x="872" y="537" width="3" height="5" fill="#ffffff"/>
<line x1="866.5" y1="542.5" x2="934.5" y2="542.5" stroke="#ffffff" stroke-width="1"/>
<rect x="809" y="543" width="21" height="4" fill="#000"/>
<rect x="836" y="543" width="30" height="4" fill="#000"/>
<rect x="796" y="543" width="2" height="4" fill="#000"/>
<rect x="793" y="543" width="4" height="1" fill="#000"/>
<rect x="799" y="543" width="10" height="1" fill="#000"/>
<rect x="831" y="543" width="5" height="1" fill="#000"/>
<rect x="866" y="543" width="6" height="4" fill="#ffffff"/>
<rect x="869" y="544" width="2" height="3" fill="#000"/>
<rect x="867" y="543" width="3" height="1" fill="#000"/>
<rect x="872" y="543" width="3" height="4" fill="#ffffff"/>
<line x1="866.5" y1="547.5" x2="934.5" y2="547.5" stroke="#ffffff" stroke-width="1"/>
<rect x="818" y="548" width="12" height="4" fill="#000"/>
<rect x="836" y="548" width="30" height="4" fill="#000"/>
<rect x="796" y="548" width="2" height="4" fill="#000"/>
<rect x="793" y="548" width="4" height="1" fill="#000"/>
<rect x="799" y="548" width="19" height="1" fill="#000"/>
<rect x="831" y="548" width="5" height="1" fill="#000"/>
<rect x="866" y="548" width="6" height="4" fill="#ffffff"/>
<rect x="869" y="549" width="2" height="3" fill="#000"/>
<rect x="867" y="548" width="3" height="1" fill="#000"/>
<rect x="872" y="548" width="3" height="4" fill="#ffffff"/>
<line x1="866.5" y1="552.5" x2="934.5" y2="552.5" stroke="#ffffff" stroke-width="1"/>
<rect x="820" y="553" width="10" height="5" fill="#000"/>
<rect x="843" y="553" width="23" height="5" fill="#000"/>
<rect x="796" y="553" width="2" height="5" fill="#000"/>
<rect x="793" y="553" width="4" height="1" fill="#000"/>
<rect x="799" y="553" width="21" height="1" fill="#000"/>
<rect x="831" y="553" width="12" height="1" fill="#000"/>
<rect x="866" y="553" width="6" height="5" fill="#ffffff"/>
<rect x="869" y="554" width="2" height="4" fill="#000"/>
<rect x="867" y="553" width="3" height="1" fill="#000"/>
<rect x="872" y="553" width="3" height="5" fill="#ffffff"/>
<rect x="920" y="553" width="10" height="5" fill="#ffffff"/>
<line x1="866.5" y1="558.5" x2="934.5" y2="558.5" stroke="#ffffff" stroke-width="1"/>
<rect x="809" y="559" width="21" height="5" fill="#000"/>
<rect x="836" y="559" width="30" height="5" fill="#000"/>
<rect x="796" y="559" width="2" height="5" fill="#000"/>
<rect x="793" y="559" width="4" height="1" fill="#000"/>
<rect x="799" y="559" width="10" height="1" fill="#000"/>
<rect x="831" y="559" width="5" height="1" fill="#000"/>
<rect x="866" y="559" width="6" height="5" fill="#ffffff"/>
<rect x="869" y="560" width="2" height="4" fill="#000"/>
<rect x="867" y="559" width="3" height="1" fill="#000"/>
<rect x="872" y="559" width="3" height="5" fill="#ffffff"/>
<line x1="866.5" y1="564.5" x2="934.5" y2="564.5" stroke="#ffffff" stroke-width="1"/>
<rect x="820" y="565" width="10" height="4" fill="#000"/>
<rect x="846" y="565" width="20" height="4" fill="#000"/>
<rect x="796" y="565" width="2" height="4" fill="#000"/>
<rect x="793" y="565" width="4" height="1" fill="#000"/>
<rect x="799" y="565" width="21" height="1" fill="#000"/>
<rect x="831" y="565" width="15" height="1" fill="#000"/>
<rect x="866" y="565" width="6" height="4" fill="#ffffff"/>
<rect x="869" y="566" width="2" height="3" fill="#000"/>
<rect x="867" y="565" width="3" height="1" fill="#000"/>
<rect x="872" y="565" width="3" height="4" fill="#ffffff"/>
<line x1="866.5" y1="569.5" x2="934.5" y2="569.5" stroke="#ffffff" stroke-width="1"/>
<rect x="818" y="570" width="12" height="4" fill="#000"/>
<rect x="839" y="570" width="27" height="4" fill="#000"/>
<rect x="796" y="570" width="2" height="4" fill="#000"/>
<rect x="793" y="570" width="4" height="1" fill="#000"/>
<rect x="799" y="570" width="19" height="1" fill="#000"/>
<rect x="831" y="570" width="8" height="1" fill="#000"/>
<rect x="866" y="570" width="6" height="4" fill="#ffffff"/>
<rect x="869" y="571" width="2" height="3" fill="#000"/>
<rect x="867" y="570" width="3" height="1" fill="#000"/>
<rect x="872" y="570" width="3" height="4" fill="#ffffff"/>
<line x1="866.5" y1="574.5" x2="934.5" y2="574.5" stroke="#ffffff" stroke-width="1"/>
<rect x="818" y="575" width="12" height="5" fill="#000"/>
<rect x="861" y="575" width="5" height="5" fill="#000"/>
<rect x="796" y="575" width="2" height="5" fill="#000"/>
<rect x="793" y="575" width="4" height="1" fill="#000"/>
<rect x="799" y="575" width="19" height="1" fill="#000"/>
<rect x="831" y="575" width="30" height="1" fill="#000"/>
<rect x="866" y="575" width="6" height="5" fill="#ffffff"/>
<rect x="869" y="576" width="2" height="4" fill="#000"/>
<rect x="867" y="575" width="3" height="1" fill="#000"/>
<rect x="872" y="575" width="24" height="5" fill="#ffffff"/>
<line x1="866.5" y1="580.5" x2="934.5" y2="580.5" stroke="#ffffff" stroke-width="1"/>
<rect x="818" y="581" width="12" height="5" fill="#000"/>
<rect x="839" y="581" width="27" height="5" fill="#000"/>
<rect x="796" y="581" width="2" height="5" fill="#000"/>
<rect x="866" y="581" width="6" height="5" fill="#ffffff"/>
<rect x="869" y="582" width="2" height="4" fill="#000"/>
<rect x="872" y="581" width="3" height="5" fill="#ffffff"/>
<line x1="866.5" y1="586.5" x2="934.5" y2="586.5" stroke="#ffffff" stroke-width="1"/>
<rect x="818" y="587" width="12" height="4" fill="#000"/>
<rect x="861" y="587" width="5" height="4" fill="#000"/>
<rect x="796" y="587" width="2" height="4" fill="#000"/>
<rect x="793" y="587" width="4" height="1" fill="#000"/>
<rect x="799" y="587" width="19" height="1" fill="#000"/>
<rect x="831" y="587" width="30" height="1" fill="#000"/>
<rect x="866" y="587" width="6" height="4" fill="#ffffff"/>
<rect x="869" y="588" width="2" height="3" fill="#000"/>
<rect x="867" y="587" width="3" height="1" fill="#000"/>
<rect x="872" y="587" width="24" height="4" fill="#ffffff"/>
<line x1="866.5" y1="591.5" x2="934.5" y2="591.5" stroke="#ffffff" stroke-width="1"/>
<rect x="821" y="592" width="9" height="4" fill="#000"/>
<rect x="843" y="592" width="23" height="4" fill="#000"/>
<rect x="796" y="592" width="2" height="4" fill="#000"/>
<rect x="866" y="592" width="6" height="4" fill="#ffffff"/>
<rect x="869" y="593" width="2" height="3" fill="#000"/>
<rect x="872" y="592" width="3" height="4" fill="#ffffff"/>
<rect x="920" y="592" width="10" height="4" fill="#ffffff"/>
<line x1="866.5" y1="596.5" x2="934.5" y2="596.5" stroke="#ffffff" stroke-width="1"/>
<rect x="809" y="597" width="21" height="5" fill="#000"/>
<rect x="839" y="597" width="27" height="5" fill="#000"/>
<rect x="796" y="597" width="2" height="5" fill="#000"/>
<rect x="793" y="597" width="4" height="1" fill="#000"/>
<rect x="799" y="597" width="10" height="1" fill="#000"/>
<rect x="831" y="597" width="8" height="1" fill="#000"/>
<rect x="866" y="597" width="6" height="5" fill="#ffffff"/>
<rect x="869" y="598" width="2" height="4" fill="#000"/>
<rect x="867" y="597" width="3" height="1" fill="#000"/>
<rect x="872" y="597" width="7" height="5" fill="#ffffff"/>
<line x1="866.5" y1="602.5" x2="934.5" y2="602.5" stroke="#ffffff" stroke-width="1"/>
<line x1="866.5" y1="514.5" x2="866.5" y2="614.5" stroke="#ffffff" stroke-width="1"/>
<line x1="871.5" y1="514.5" x2="871.5" y2="614.5" stroke="#ffffff" stroke-width="1"/>
<line x1="901.5" y1="514.5" x2="901.5" y2="614.5" stroke="#ffffff" stroke-width="1"/>
<line x1="909.5" y1="514.5" x2="909.5" y2="614.5" stroke="#ffffff" stroke-width="1"/>
<line x1="919.5" y1="514.5" x2="919.5" y2="614.5" stroke="#ffffff" stroke-width="1"/>
<line x1="830.5" y1="514.5" x2="830.5" y2="614.5" stroke="#ffffff" stroke-width="1"/>
<line x1="798.5" y1="514.5" x2="798.5" y2="614.5" stroke="#ffffff" stroke-width="1"/>
<rect x="799" y="605" width="31" height="9" fill="#000"/>
<rect x="831" y="605" width="35" height="9" fill="#000"/>
<rect x="872" y="605" width="29" height="9" fill="#000"/>
<rect x="920" y="605" width="14" height="9" fill="#000"/>
<rect x="902" y="605" width="7" height="9" fill="#000"/>
<rect x="910" y="605" width="9" height="9" fill="#000"/>
<rect x="810" y="607" width="7" height="5" fill="#ffffff"/>
<rect x="843" y="607" width="7" height="5" fill="#ffffff"/>
<rect x="882" y="607" width="7" height="5" fill="#ffffff"/>
<rect x="924" y="607" width="6" height="5" fill="#ffffff"/>
<rect x="903" y="606" width="5" height="3" fill="#ffffff"/>
<rect x="911" y="606" width="5" height="3" fill="#ffffff"/>
<rect x="907" y="610" width="5" height="4" fill="#ffffff"/>
<rect x="793" y="605" width="4" height="4" fill="#ffffff"/>
<line x1="792.5" y1="604.5" x2="934.5" y2="604.5" stroke="#ffffff" stroke-width="1"/>
<line x1="792.5" y1="614.5" x2="934.5" y2="614.5" stroke="#ffffff" stroke-width="1"/>
<line x1="792.5" y1="620.5" x2="855.5" y2="620.5" stroke="#ffffff" stroke-width="1"/>
<line x1="792.5" y1="625.5" x2="855.5" y2="625.5" stroke="#ffffff" stroke-width="1"/>
<line x1="792.5" y1="631.5" x2="855.5" y2="631.5" stroke="#ffffff" stroke-width="1"/>
<line x1="792.5" y1="636.5" x2="855.5" y2="636.5" stroke="#ffffff" stroke-width="1"/>
<line x1="792.5" y1="642.5" x2="855.5" y2="642.5" stroke="#ffffff" stroke-width="1"/>
<line x1="792.5" y1="648.5" x2="855.5" y2="648.5" stroke="#ffffff" stroke-width="1"/>
<line x1="792.5" y1="653.5" x2="855.5" y2="653.5" stroke="#ffffff" stroke-width="1"/>
<line x1="800.5" y1="614.5" x2="800.5" y2="636.5" stroke="#ffffff" stroke-width="1"/>
<line x1="808.5" y1="614.5" x2="808.5" y2="636.5" stroke="#ffffff" stroke-width="1"/>
<line x1="820.5" y1="614.5" x2="820.5" y2="636.5" stroke="#ffffff" stroke-width="1"/>
<line x1="833.5" y1="614.5" x2="833.5" y2="636.5" stroke="#ffffff" stroke-width="1"/>
<line x1="843.5" y1="614.5" x2="843.5" y2="636.5" stroke="#ffffff" stroke-width="1"/>
<line x1="801.5" y1="636.5" x2="801.5" y2="658.5" stroke="#ffffff" stroke-width="1"/>
<line x1="811.5" y1="636.5" x2="811.5" y2="658.5" stroke="#ffffff" stroke-width="1"/>
<line x1="824.5" y1="636.5" x2="824.5" y2="658.5" stroke="#ffffff" stroke-width="1"/>
<line x1="833.5" y1="636.5" x2="833.5" y2="658.5" stroke="#ffffff" stroke-width="1"/>
<line x1="843.5" y1="636.5" x2="843.5" y2="658.5" stroke="#ffffff" stroke-width="1"/>
<line x1="855.5" y1="614.5" x2="855.5" y2="658.5" stroke="#ffffff" stroke-width="1"/>
<line x1="895.5" y1="614.5" x2="895.5" y2="658.5" stroke="#ffffff" stroke-width="1"/>
<line x1="855.5" y1="636.5" x2="895.5" y2="636.5" stroke="#ffffff" stroke-width="1"/>
<line x1="855.5" y1="644.5" x2="895.5" y2="644.5" stroke="#ffffff" stroke-width="1"/>
<line x1="855.5" y1="651.5" x2="895.5" y2="651.5" stroke="#ffffff" stroke-width="1"/>
<line x1="876.5" y1="636.5" x2="876.5" y2="651.5" stroke="#ffffff" stroke-width="1"/>
<line x1="885.5" y1="636.5" x2="885.5" y2="651.5" stroke="#ffffff" stroke-width="1"/>
<line x1="860.5" y1="644.5" x2="860.5" y2="651.5" stroke="#ffffff" stroke-width="1"/>
<line x1="866.5" y1="644.5" x2="866.5" y2="651.5" stroke="#ffffff" stroke-width="1"/>
<line x1="871.5" y1="644.5" x2="871.5" y2="651.5" stroke="#ffffff" stroke-width="1"/>
<line x1="895.5" y1="627.5" x2="934.5" y2="627.5" stroke="#ffffff" stroke-width="1"/>
<line x1="895.5" y1="642.5" x2="934.5" y2="642.5" stroke="#ffffff" stroke-width="1"/>
<line x1="895.5" y1="652.5" x2="934.5" y2="652.5" stroke="#ffffff" stroke-width="1"/>
<rect x="793" y="632" width="6" height="4" fill="#00ff00"/>
<rect x="801" y="632" width="5" height="4" fill="#00ff00"/>
<rect x="811" y="632" width="6" height="4" fill="#00ff00"/>
<rect x="821" y="632" width="12" height="4" fill="#00ff00"/>
<rect x="835" y="632" width="6" height="4" fill="#00ff00"/>
<rect x="844" y="632" width="11" height="4" fill="#00ff00"/>
<rect x="794" y="638" width="5" height="4" fill="#00ff00"/>
<rect x="824" y="637" width="8" height="5" fill="#00ff00"/>
<rect x="794" y="649" width="5" height="4" fill="#00ff00"/>
<rect x="794" y="654" width="5" height="4" fill="#00ff00"/>
<rect x="826" y="654" width="5" height="4" fill="#00ff00"/>
<rect x="870" y="623" width="11" height="6" fill="#00ff00"/>
<rect x="874" y="622" width="3" height="1" fill="#000"/>
<rect x="860" y="639" width="11" height="4" fill="#00ff00"/>
<rect x="878" y="639" width="5" height="4" fill="#00ff00"/>
<rect x="887" y="639" width="6" height="4" fill="#00ff00"/>
<rect x="888" y="646" width="4" height="4" fill="#00ff00"/>
<rect x="858" y="654" width="4" height="4" fill="#00ff00"/>
<rect x="864" y="654" width="2" height="4" fill="#00ff00"/>
<rect x="869" y="654" width="4" height="4" fill="#00ff00"/>
<rect x="878" y="654" width="4" height="4" fill="#00ff00"/>
<rect x="885" y="654" width="2" height="4" fill="#00ff00"/>
<rect x="890" y="654" width="3" height="4" fill="#00ff00"/>
<rect x="905" y="619" width="19" height="5" fill="#00ff00"/>
<rect x="903" y="633" width="23" height="5" fill="#00ff00"/></svg>
</body></html>
